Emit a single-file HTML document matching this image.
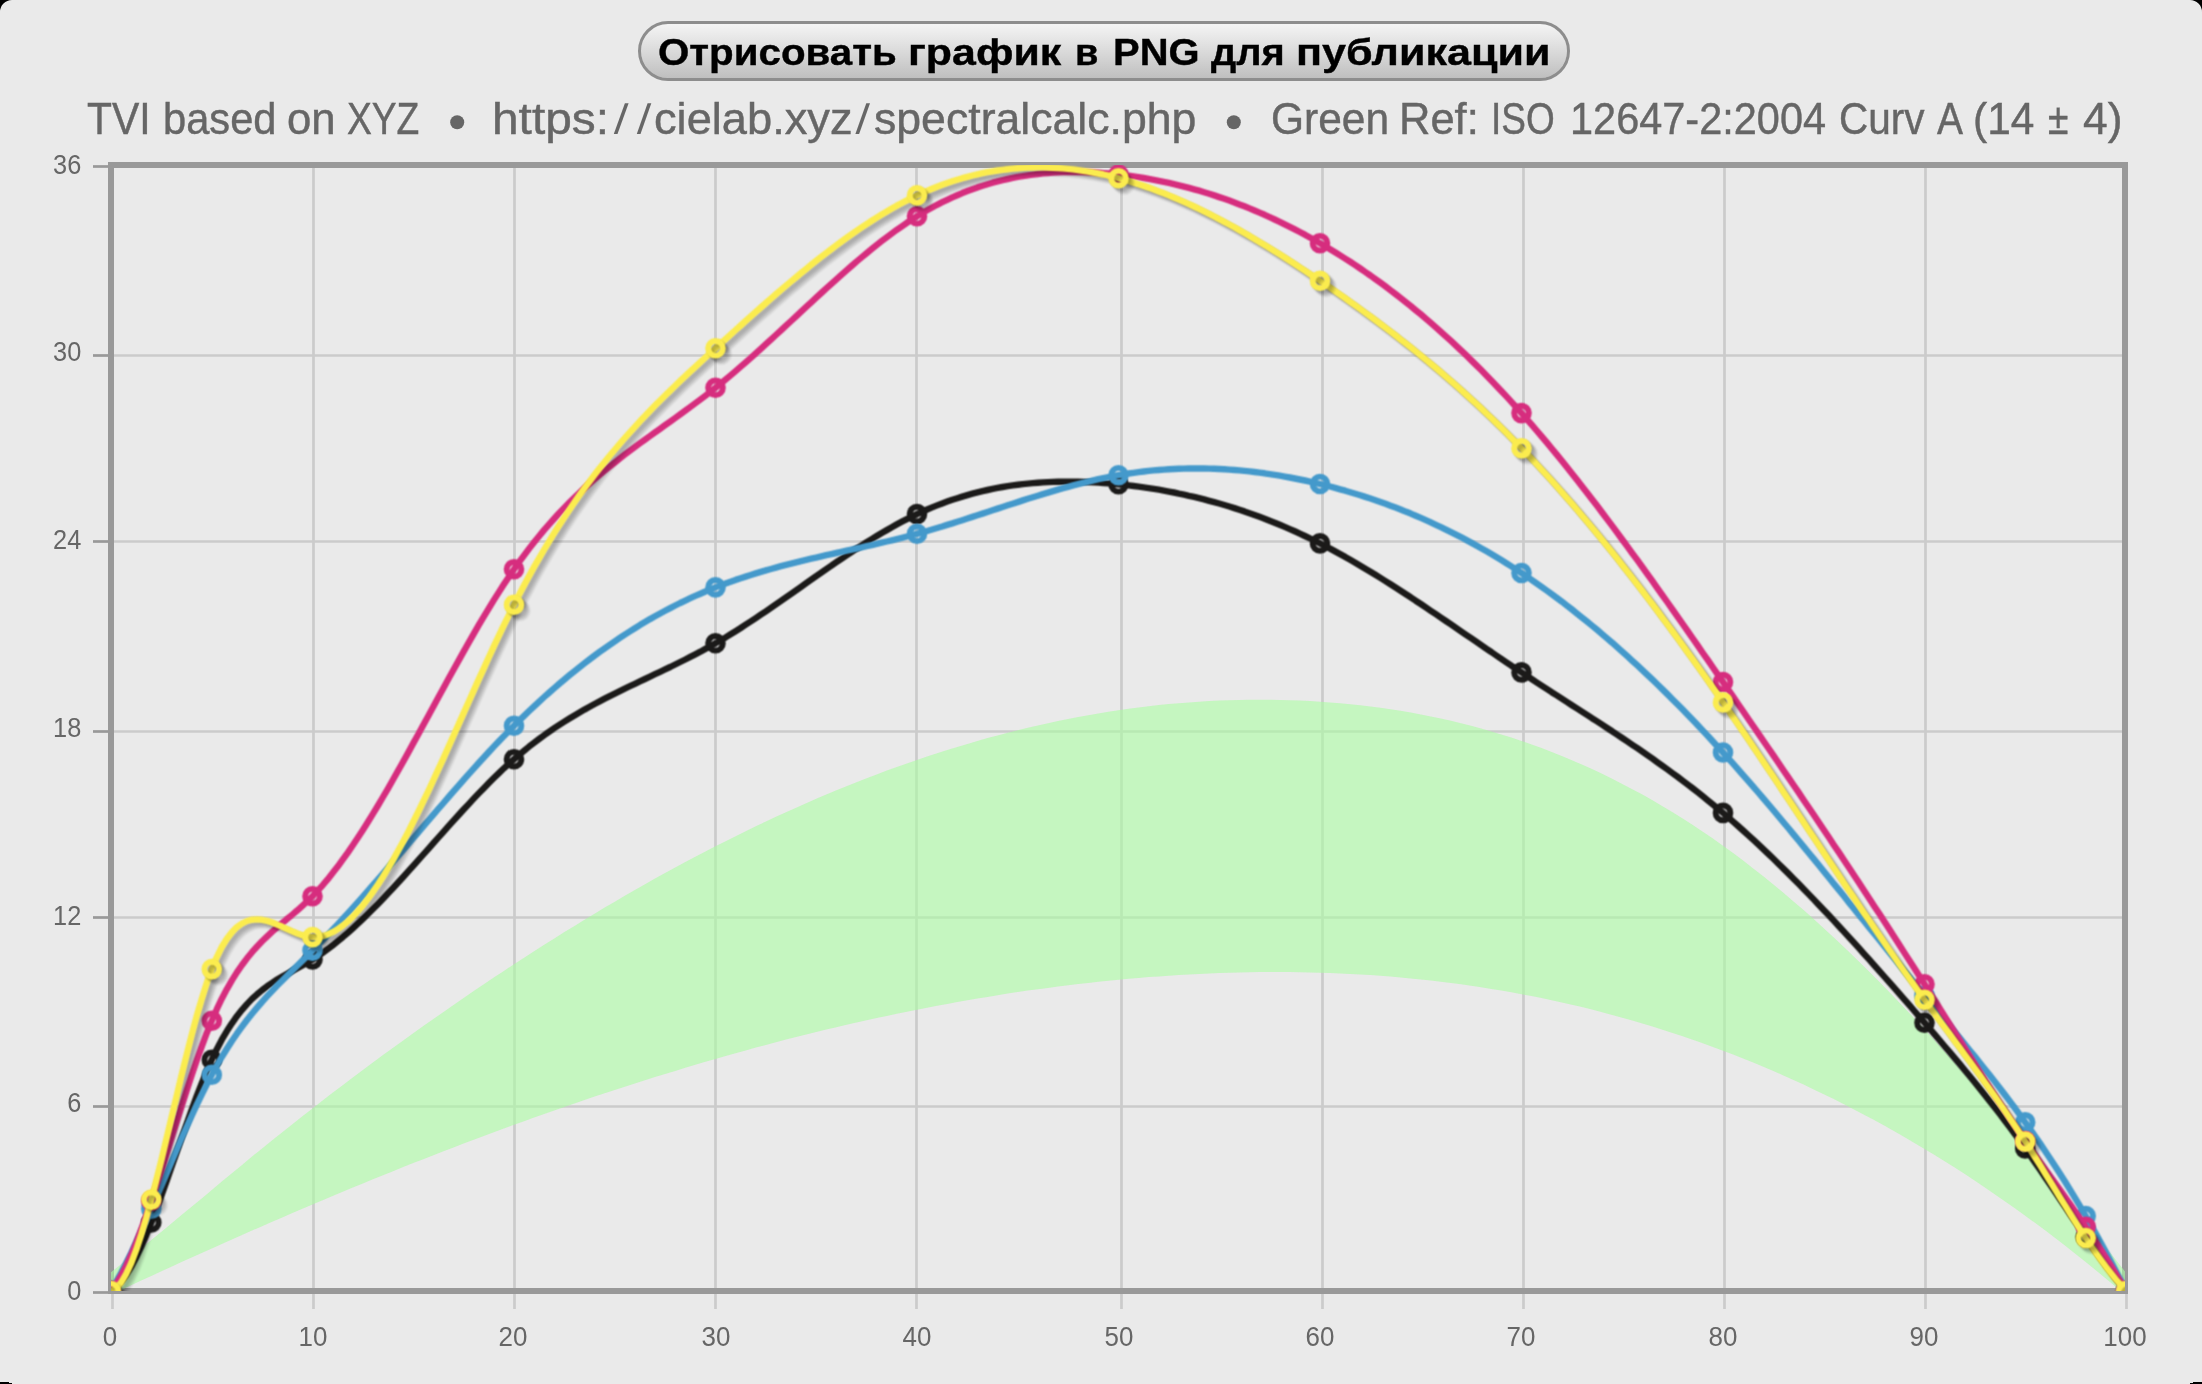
<!DOCTYPE html>
<html lang="ru"><head><meta charset="utf-8"><title>TVI based on XYZ</title>
<style>
html,body{margin:0;padding:0;}
body{width:2202px;height:1384px;background:#eaeaea;position:relative;font-family:"Liberation Sans",sans-serif;color:#666;}
.btn{position:absolute;left:638px;top:21px;width:932px;height:60px;box-sizing:border-box;border:3px solid #8d8d8d;border-radius:30px;
 background:linear-gradient(#f4f4f4 0%,#e6e6e6 28%,#d5d5d5 60%,#bfbfbf 100%) padding-box;background-origin:padding-box;}
.tw{position:absolute;top:89.00px;height:60px;line-height:60px;white-space:pre;font-size:44.5px;color:#666;transform-origin:0 0;-webkit-text-stroke:0.45px #666;}
.bw{position:absolute;top:21.70px;height:60px;line-height:60px;white-space:pre;font-size:37.5px;font-weight:bold;color:#000;transform-origin:0 0;-webkit-text-stroke:0.4px #000;}
.xl{position:absolute;top:1321.4px;width:100px;height:30px;line-height:30px;text-align:center;font-size:28.5px;color:#666;transform:scaleX(0.91);transform-origin:50% 50%;}
.yl{position:absolute;left:0;width:81.3px;height:30px;line-height:30px;text-align:right;font-size:28.5px;color:#666;transform:scaleX(0.89);transform-origin:100% 50%;}
</style></head><body>
<svg width="2202" height="1384" viewBox="0 0 2202 1384" style="position:absolute;left:0;top:0">
<defs><clipPath id="plot"><rect x="111" y="165" width="2014" height="1126"/></clipPath><filter id="soft" x="-5%" y="-5%" width="110%" height="110%" color-interpolation-filters="sRGB"><feConvolveMatrix order="3" kernelMatrix="1 2 1 2 4 2 1 2 1" divisor="16" edgeMode="none"/></filter><filter id="sh" x="-5%" y="-5%" width="110%" height="110%" color-interpolation-filters="sRGB"><feGaussianBlur stdDeviation="1.1"/></filter></defs>
<g stroke="#cbcbcb" stroke-width="2.7" fill="none"><line x1="112.5" y1="165" x2="112.5" y2="1309" /><line x1="313.5" y1="165" x2="313.5" y2="1309" /><line x1="514.5" y1="165" x2="514.5" y2="1309" /><line x1="715.5" y1="165" x2="715.5" y2="1309" /><line x1="916.5" y1="165" x2="916.5" y2="1309" /><line x1="1121.5" y1="165" x2="1121.5" y2="1309" /><line x1="1322.5" y1="165" x2="1322.5" y2="1309" /><line x1="1523.5" y1="165" x2="1523.5" y2="1309" /><line x1="1724.5" y1="165" x2="1724.5" y2="1309" /><line x1="1925.5" y1="165" x2="1925.5" y2="1309" /><line x1="2126.5" y1="165" x2="2126.5" y2="1309" /><line x1="108" y1="166.5" x2="2128" y2="166.5" /><line x1="108" y1="355.5" x2="2128" y2="355.5" /><line x1="108" y1="541.5" x2="2128" y2="541.5" /><line x1="108" y1="731.5" x2="2128" y2="731.5" /><line x1="108" y1="917.5" x2="2128" y2="917.5" /><line x1="108" y1="1106.5" x2="2128" y2="1106.5" /><line x1="108" y1="1292.5" x2="2128" y2="1292.5" /></g>
<g stroke="#999999" stroke-width="2.7" fill="none"><line x1="93" y1="166.5" x2="109" y2="166.5" /><line x1="93" y1="355.5" x2="109" y2="355.5" /><line x1="93" y1="541.5" x2="109" y2="541.5" /><line x1="93" y1="731.5" x2="109" y2="731.5" /><line x1="93" y1="917.5" x2="109" y2="917.5" /><line x1="93" y1="1106.5" x2="109" y2="1106.5" /><line x1="93" y1="1292.5" x2="109" y2="1292.5" /></g>
<rect x="111" y="165" width="2014" height="1126" fill="none" stroke="#999999" stroke-width="6"/>
<g clip-path="url(#plot)">
<path d="M111.0,1272.2 L121.1,1264.3 L131.2,1256.3 L141.2,1248.2 L151.3,1240.0 L161.4,1231.8 L171.4,1223.5 L181.5,1215.1 L191.6,1206.7 L201.7,1198.4 L211.8,1190.0 L221.8,1181.6 L231.9,1173.2 L242.0,1164.9 L252.0,1156.6 L262.1,1148.4 L272.2,1140.2 L282.3,1132.2 L292.4,1124.2 L302.4,1116.2 L312.5,1108.4 L322.6,1100.6 L332.6,1092.8 L342.7,1085.2 L352.8,1077.6 L362.9,1070.0 L372.9,1062.6 L383.0,1055.1 L393.1,1047.8 L403.2,1040.5 L413.2,1033.3 L423.3,1026.1 L433.4,1019.0 L443.5,1011.9 L453.5,1004.9 L463.6,998.0 L473.7,991.1 L483.8,984.3 L493.8,977.5 L503.9,970.9 L514.0,964.2 L524.1,957.7 L534.1,951.2 L544.2,944.8 L554.3,938.4 L564.4,932.1 L574.5,925.9 L584.5,919.7 L594.6,913.7 L604.7,907.6 L614.8,901.7 L624.8,895.8 L634.9,890.0 L645.0,884.3 L655.0,878.6 L665.1,873.1 L675.2,867.6 L685.3,862.1 L695.3,856.8 L705.4,851.5 L715.5,846.3 L725.6,841.2 L735.6,836.2 L745.7,831.2 L755.8,826.3 L765.9,821.5 L775.9,816.8 L786.0,812.2 L796.1,807.7 L806.2,803.2 L816.2,798.8 L826.3,794.5 L836.4,790.3 L846.5,786.2 L856.5,782.2 L866.6,778.2 L876.7,774.4 L886.8,770.6 L896.8,767.0 L906.9,763.4 L917.0,759.9 L927.1,756.5 L937.1,753.2 L947.2,750.0 L957.3,746.9 L967.4,743.9 L977.4,740.9 L987.5,738.1 L997.6,735.4 L1007.7,732.7 L1017.7,730.2 L1027.8,727.8 L1037.9,725.4 L1048.0,723.2 L1058.0,721.0 L1068.1,719.0 L1078.2,717.0 L1088.3,715.2 L1098.3,713.4 L1108.4,711.8 L1118.5,710.3 L1128.6,708.8 L1138.6,707.5 L1148.7,706.3 L1158.8,705.1 L1168.9,704.1 L1178.9,703.2 L1189.0,702.4 L1199.1,701.7 L1209.2,701.1 L1219.2,700.6 L1229.3,700.2 L1239.4,699.9 L1249.5,699.8 L1259.5,699.7 L1269.6,699.8 L1279.7,699.9 L1289.8,700.2 L1299.8,700.6 L1309.9,701.1 L1320.0,701.7 L1330.1,702.4 L1340.1,703.2 L1350.2,704.2 L1360.3,705.3 L1370.4,706.5 L1380.4,707.8 L1390.5,709.2 L1400.6,710.8 L1410.7,712.5 L1420.8,714.4 L1430.8,716.4 L1440.9,718.5 L1451.0,720.8 L1461.0,723.2 L1471.1,725.8 L1481.2,728.5 L1491.3,731.4 L1501.3,734.4 L1511.4,737.6 L1521.5,740.9 L1531.6,744.4 L1541.6,748.1 L1551.7,752.0 L1561.8,756.0 L1571.9,760.2 L1581.9,764.6 L1592.0,769.1 L1602.1,773.8 L1612.2,778.8 L1622.2,783.9 L1632.3,789.2 L1642.4,794.6 L1652.5,800.3 L1662.5,806.2 L1672.6,812.3 L1682.7,818.6 L1692.8,825.0 L1702.8,831.7 L1712.9,838.6 L1723.0,845.7 L1733.1,853.1 L1743.1,860.6 L1753.2,868.4 L1763.3,876.3 L1773.4,884.5 L1783.4,892.8 L1793.5,901.4 L1803.6,910.1 L1813.7,919.1 L1823.7,928.2 L1833.8,937.5 L1843.9,947.0 L1854.0,956.7 L1864.0,966.6 L1874.1,976.6 L1884.2,986.8 L1894.3,997.2 L1904.3,1007.7 L1914.4,1018.4 L1924.5,1029.2 L1934.6,1040.2 L1944.6,1051.4 L1954.7,1062.7 L1964.8,1074.2 L1974.9,1085.7 L1984.9,1097.5 L1995.0,1109.4 L2005.1,1121.4 L2015.2,1133.5 L2025.2,1145.8 L2035.3,1158.2 L2045.4,1170.7 L2055.5,1183.3 L2065.6,1196.0 L2075.6,1208.7 L2085.7,1221.5 L2095.8,1234.3 L2105.8,1247.1 L2115.9,1259.9 L2126.0,1272.7 L2126.0,1295.5 L2115.9,1286.9 L2105.8,1278.5 L2095.8,1270.2 L2085.7,1262.0 L2075.6,1253.9 L2065.6,1246.0 L2055.5,1238.3 L2045.4,1230.6 L2035.3,1223.1 L2025.2,1215.7 L2015.2,1208.5 L2005.1,1201.4 L1995.0,1194.4 L1984.9,1187.5 L1974.9,1180.7 L1964.8,1174.1 L1954.7,1167.6 L1944.6,1161.3 L1934.6,1155.0 L1924.5,1148.9 L1914.4,1142.9 L1904.3,1137.0 L1894.3,1131.3 L1884.2,1125.6 L1874.1,1120.1 L1864.0,1114.7 L1854.0,1109.4 L1843.9,1104.2 L1833.8,1099.1 L1823.7,1094.2 L1813.7,1089.4 L1803.6,1084.6 L1793.5,1080.0 L1783.4,1075.5 L1773.4,1071.1 L1763.3,1066.8 L1753.2,1062.6 L1743.1,1058.6 L1733.1,1054.6 L1723.0,1050.7 L1712.9,1047.0 L1702.8,1043.3 L1692.8,1039.7 L1682.7,1036.3 L1672.6,1032.9 L1662.5,1029.7 L1652.5,1026.5 L1642.4,1023.5 L1632.3,1020.5 L1622.2,1017.7 L1612.2,1014.9 L1602.1,1012.2 L1592.0,1009.6 L1581.9,1007.1 L1571.9,1004.8 L1561.8,1002.5 L1551.7,1000.2 L1541.6,998.1 L1531.6,996.1 L1521.5,994.2 L1511.4,992.3 L1501.3,990.5 L1491.3,988.9 L1481.2,987.3 L1471.1,985.7 L1461.0,984.3 L1451.0,983.0 L1440.9,981.7 L1430.8,980.5 L1420.8,979.4 L1410.7,978.4 L1400.6,977.5 L1390.5,976.6 L1380.4,975.8 L1370.4,975.1 L1360.3,974.5 L1350.2,973.9 L1340.1,973.4 L1330.1,973.0 L1320.0,972.7 L1309.9,972.4 L1299.8,972.2 L1289.8,972.1 L1279.7,972.0 L1269.6,972.0 L1259.5,972.1 L1249.5,972.2 L1239.4,972.4 L1229.3,972.7 L1219.2,973.0 L1209.2,973.4 L1199.1,973.9 L1189.0,974.4 L1178.9,975.0 L1168.9,975.7 L1158.8,976.4 L1148.7,977.1 L1138.6,978.0 L1128.6,978.8 L1118.5,979.8 L1108.4,980.8 L1098.3,981.8 L1088.3,982.9 L1078.2,984.1 L1068.1,985.3 L1058.0,986.5 L1048.0,987.9 L1037.9,989.2 L1027.8,990.6 L1017.7,992.1 L1007.7,993.6 L997.6,995.2 L987.5,996.9 L977.4,998.5 L967.4,1000.3 L957.3,1002.0 L947.2,1003.9 L937.1,1005.7 L927.1,1007.7 L917.0,1009.7 L906.9,1011.7 L896.8,1013.8 L886.8,1015.9 L876.7,1018.0 L866.6,1020.3 L856.5,1022.5 L846.5,1024.8 L836.4,1027.2 L826.3,1029.6 L816.2,1032.0 L806.2,1034.5 L796.1,1037.1 L786.0,1039.6 L775.9,1042.3 L765.9,1044.9 L755.8,1047.6 L745.7,1050.4 L735.6,1053.2 L725.6,1056.0 L715.5,1058.9 L705.4,1061.8 L695.3,1064.8 L685.3,1067.8 L675.2,1070.9 L665.1,1073.9 L655.0,1077.1 L645.0,1080.2 L634.9,1083.4 L624.8,1086.7 L614.8,1090.0 L604.7,1093.3 L594.6,1096.6 L584.5,1100.0 L574.5,1103.5 L564.4,1106.9 L554.3,1110.4 L544.2,1114.0 L534.1,1117.6 L524.1,1121.2 L514.0,1124.8 L503.9,1128.5 L493.8,1132.2 L483.8,1136.0 L473.7,1139.8 L463.6,1143.6 L453.5,1147.4 L443.5,1151.3 L433.4,1155.2 L423.3,1159.2 L413.2,1163.1 L403.2,1167.1 L393.1,1171.2 L383.0,1175.2 L372.9,1179.3 L362.9,1183.5 L352.8,1187.6 L342.7,1191.8 L332.6,1196.0 L322.6,1200.2 L312.5,1204.5 L302.4,1208.8 L292.4,1213.1 L282.3,1217.4 L272.2,1221.8 L262.1,1226.2 L252.0,1230.6 L242.0,1235.0 L231.9,1239.5 L221.8,1244.0 L211.8,1248.5 L201.7,1253.0 L191.6,1257.6 L181.5,1262.1 L171.4,1266.7 L161.4,1271.3 L151.3,1275.9 L141.2,1280.6 L131.2,1285.3 L121.1,1290.0 L111.0,1294.7 Z" fill="#abfea4" fill-opacity="0.6" stroke="none"/>
<g filter="url(#soft)"><path d="M111.0,1291.0 L116.0,1287.3 L121.1,1281.9 L126.1,1275.0 L131.2,1266.8 L136.2,1257.2 L141.2,1246.6 L146.3,1234.9 L151.3,1222.5 L156.3,1209.4 L161.4,1195.7 L166.4,1181.6 L171.4,1167.2 L176.5,1152.8 L181.5,1138.3 L186.6,1124.0 L191.6,1110.0 L196.6,1096.4 L201.7,1083.4 L206.7,1071.1 L211.8,1059.7 L216.8,1049.2 L221.8,1039.7 L226.9,1031.1 L231.9,1023.3 L236.9,1016.2 L242.0,1009.8 L247.0,1004.1 L252.0,998.9 L257.1,994.3 L262.1,990.1 L267.2,986.2 L272.2,982.8 L277.2,979.5 L282.3,976.5 L287.3,973.7 L292.4,970.9 L297.4,968.2 L302.4,965.4 L307.5,962.5 L312.5,959.5 L317.5,956.3 L322.6,952.8 L327.6,949.2 L332.6,945.4 L337.7,941.3 L342.7,937.2 L347.8,932.8 L352.8,928.3 L357.8,923.7 L362.9,918.9 L367.9,914.0 L372.9,909.0 L378.0,903.9 L383.0,898.7 L388.1,893.3 L393.1,888.0 L398.1,882.5 L403.2,877.0 L408.2,871.4 L413.2,865.8 L418.3,860.2 L423.3,854.5 L428.4,848.9 L433.4,843.2 L438.4,837.5 L443.5,831.8 L448.5,826.2 L453.5,820.6 L458.6,815.0 L463.6,809.5 L468.7,804.1 L473.7,798.7 L478.7,793.4 L483.8,788.2 L488.8,783.0 L493.8,778.0 L498.9,773.1 L503.9,768.3 L509.0,763.7 L514.0,759.2 L519.0,754.9 L524.1,750.7 L529.1,746.6 L534.1,742.7 L539.2,738.9 L544.2,735.2 L549.3,731.6 L554.3,728.2 L559.3,724.9 L564.4,721.6 L569.4,718.5 L574.5,715.4 L579.5,712.5 L584.5,709.6 L589.6,706.8 L594.6,704.0 L599.6,701.4 L604.7,698.7 L609.7,696.1 L614.8,693.6 L619.8,691.1 L624.8,688.6 L629.9,686.2 L634.9,683.8 L639.9,681.4 L645.0,679.0 L650.0,676.6 L655.0,674.2 L660.1,671.8 L665.1,669.4 L670.2,667.0 L675.2,664.5 L680.2,662.0 L685.3,659.5 L690.3,656.9 L695.3,654.3 L700.4,651.7 L705.4,648.9 L710.5,646.2 L715.5,643.3 L720.5,640.4 L725.6,637.4 L730.6,634.3 L735.6,631.2 L740.7,628.0 L745.7,624.7 L750.8,621.4 L755.8,618.1 L760.8,614.7 L765.9,611.3 L770.9,607.9 L775.9,604.4 L781.0,600.9 L786.0,597.4 L791.1,593.8 L796.1,590.3 L801.1,586.8 L806.2,583.2 L811.2,579.7 L816.2,576.1 L821.3,572.6 L826.3,569.1 L831.4,565.7 L836.4,562.2 L841.4,558.8 L846.5,555.4 L851.5,552.0 L856.5,548.7 L861.6,545.5 L866.6,542.3 L871.7,539.1 L876.7,536.0 L881.7,533.0 L886.8,530.1 L891.8,527.2 L896.8,524.4 L901.9,521.7 L906.9,519.1 L912.0,516.5 L917.0,514.1 L922.0,511.8 L927.1,509.5 L932.1,507.4 L937.1,505.4 L942.2,503.4 L947.2,501.6 L952.3,499.8 L957.3,498.2 L962.3,496.6 L967.4,495.1 L972.4,493.7 L977.4,492.4 L982.5,491.1 L987.5,490.0 L992.6,488.9 L997.6,487.9 L1002.6,487.0 L1007.7,486.2 L1012.7,485.4 L1017.7,484.8 L1022.8,484.1 L1027.8,483.6 L1032.9,483.1 L1037.9,482.7 L1042.9,482.4 L1048.0,482.1 L1053.0,481.9 L1058.0,481.8 L1063.1,481.7 L1068.1,481.7 L1073.2,481.7 L1078.2,481.8 L1083.2,481.9 L1088.3,482.1 L1093.3,482.3 L1098.3,482.6 L1103.4,483.0 L1108.4,483.4 L1113.5,483.8 L1118.5,484.3 L1123.5,484.8 L1128.6,485.4 L1133.6,486.0 L1138.6,486.7 L1143.7,487.4 L1148.7,488.1 L1153.8,488.9 L1158.8,489.7 L1163.8,490.6 L1168.9,491.6 L1173.9,492.5 L1178.9,493.6 L1184.0,494.6 L1189.0,495.8 L1194.1,496.9 L1199.1,498.2 L1204.1,499.4 L1209.2,500.8 L1214.2,502.1 L1219.2,503.5 L1224.3,505.0 L1229.3,506.5 L1234.4,508.1 L1239.4,509.8 L1244.4,511.4 L1249.5,513.2 L1254.5,515.0 L1259.5,516.8 L1264.6,518.7 L1269.6,520.7 L1274.7,522.7 L1279.7,524.8 L1284.7,526.9 L1289.8,529.1 L1294.8,531.3 L1299.8,533.6 L1304.9,536.0 L1309.9,538.4 L1315.0,540.9 L1320.0,543.4 L1325.0,546.0 L1330.1,548.6 L1335.1,551.4 L1340.1,554.1 L1345.2,556.9 L1350.2,559.8 L1355.3,562.7 L1360.3,565.7 L1365.3,568.7 L1370.4,571.7 L1375.4,574.8 L1380.4,577.9 L1385.5,581.1 L1390.5,584.3 L1395.6,587.5 L1400.6,590.7 L1405.6,594.0 L1410.7,597.3 L1415.7,600.7 L1420.8,604.0 L1425.8,607.4 L1430.8,610.8 L1435.9,614.2 L1440.9,617.6 L1445.9,621.0 L1451.0,624.4 L1456.0,627.9 L1461.0,631.3 L1466.1,634.8 L1471.1,638.2 L1476.2,641.7 L1481.2,645.1 L1486.2,648.6 L1491.3,652.0 L1496.3,655.5 L1501.3,658.9 L1506.4,662.3 L1511.4,665.7 L1516.5,669.0 L1521.5,672.4 L1526.5,675.7 L1531.6,679.0 L1536.6,682.3 L1541.6,685.6 L1546.7,688.9 L1551.7,692.2 L1556.8,695.4 L1561.8,698.7 L1566.8,701.9 L1571.9,705.2 L1576.9,708.4 L1581.9,711.6 L1587.0,714.9 L1592.0,718.2 L1597.1,721.4 L1602.1,724.7 L1607.1,728.0 L1612.2,731.3 L1617.2,734.7 L1622.2,738.0 L1627.3,741.4 L1632.3,744.8 L1637.4,748.2 L1642.4,751.7 L1647.4,755.2 L1652.5,758.7 L1657.5,762.3 L1662.5,765.9 L1667.6,769.5 L1672.6,773.2 L1677.7,776.9 L1682.7,780.7 L1687.7,784.5 L1692.8,788.4 L1697.8,792.3 L1702.8,796.3 L1707.9,800.4 L1712.9,804.5 L1718.0,808.7 L1723.0,812.9 L1728.0,817.2 L1733.1,821.6 L1738.1,826.0 L1743.1,830.5 L1748.2,835.1 L1753.2,839.7 L1758.3,844.4 L1763.3,849.1 L1768.3,853.9 L1773.4,858.8 L1778.4,863.7 L1783.4,868.6 L1788.5,873.6 L1793.5,878.7 L1798.6,883.8 L1803.6,888.9 L1808.6,894.1 L1813.7,899.4 L1818.7,904.7 L1823.7,910.0 L1828.8,915.3 L1833.8,920.7 L1838.9,926.2 L1843.9,931.6 L1848.9,937.1 L1854.0,942.7 L1859.0,948.2 L1864.0,953.8 L1869.1,959.4 L1874.1,965.1 L1879.2,970.8 L1884.2,976.5 L1889.2,982.2 L1894.3,987.9 L1899.3,993.7 L1904.3,999.4 L1909.4,1005.2 L1914.4,1011.0 L1919.5,1016.9 L1924.5,1022.7 L1929.5,1028.5 L1934.6,1034.4 L1939.6,1040.3 L1944.6,1046.2 L1949.7,1052.1 L1954.7,1058.1 L1959.8,1064.1 L1964.8,1070.2 L1969.8,1076.3 L1974.9,1082.5 L1979.9,1088.7 L1984.9,1095.0 L1990.0,1101.4 L1995.0,1107.8 L2000.1,1114.4 L2005.1,1121.0 L2010.1,1127.7 L2015.2,1134.5 L2020.2,1141.5 L2025.2,1148.5 L2030.3,1155.6 L2035.3,1162.9 L2040.4,1170.2 L2045.4,1177.6 L2050.4,1185.0 L2055.5,1192.5 L2060.5,1200.0 L2065.6,1207.4 L2070.6,1214.9 L2075.6,1222.3 L2080.7,1229.7 L2085.7,1237.0 L2090.7,1244.2 L2095.8,1251.3 L2100.8,1258.3 L2105.8,1265.2 L2110.9,1271.9 L2115.9,1278.5 L2121.0,1284.8 L2126.0,1291.0" stroke="#1b1a19" stroke-width="6.4" fill="none" stroke-linejoin="round" stroke-linecap="round"/><circle cx="111.0" cy="1291.0" r="7.35" stroke="#1b1a19" stroke-width="5.9" fill="none"/><circle cx="151.3" cy="1222.5" r="7.35" stroke="#1b1a19" stroke-width="5.9" fill="none"/><circle cx="211.8" cy="1059.7" r="7.35" stroke="#1b1a19" stroke-width="5.9" fill="none"/><circle cx="312.5" cy="959.5" r="7.35" stroke="#1b1a19" stroke-width="5.9" fill="none"/><circle cx="514.0" cy="759.2" r="7.35" stroke="#1b1a19" stroke-width="5.9" fill="none"/><circle cx="715.5" cy="643.3" r="7.35" stroke="#1b1a19" stroke-width="5.9" fill="none"/><circle cx="917.0" cy="514.1" r="7.35" stroke="#1b1a19" stroke-width="5.9" fill="none"/><circle cx="1118.5" cy="484.3" r="7.35" stroke="#1b1a19" stroke-width="5.9" fill="none"/><circle cx="1320.0" cy="543.4" r="7.35" stroke="#1b1a19" stroke-width="5.9" fill="none"/><circle cx="1521.5" cy="672.4" r="7.35" stroke="#1b1a19" stroke-width="5.9" fill="none"/><circle cx="1723.0" cy="812.9" r="7.35" stroke="#1b1a19" stroke-width="5.9" fill="none"/><circle cx="1924.5" cy="1022.7" r="7.35" stroke="#1b1a19" stroke-width="5.9" fill="none"/><circle cx="2025.2" cy="1148.5" r="7.35" stroke="#1b1a19" stroke-width="5.9" fill="none"/><circle cx="2085.7" cy="1237.0" r="7.35" stroke="#1b1a19" stroke-width="5.9" fill="none"/><circle cx="2126.0" cy="1291.0" r="7.35" stroke="#1b1a19" stroke-width="5.9" fill="none"/></g>
<g filter="url(#soft)"><path d="M111.0,1291.0 L116.0,1282.3 L121.1,1273.0 L126.1,1263.3 L131.2,1253.1 L136.2,1242.4 L141.2,1231.5 L146.3,1220.3 L151.3,1208.8 L156.3,1197.2 L161.4,1185.4 L166.4,1173.7 L171.4,1161.9 L176.5,1150.2 L181.5,1138.6 L186.6,1127.2 L191.6,1116.0 L196.6,1105.1 L201.7,1094.6 L206.7,1084.5 L211.8,1074.8 L216.8,1065.6 L221.8,1057.0 L226.9,1048.8 L231.9,1041.0 L236.9,1033.7 L242.0,1026.7 L247.0,1020.0 L252.0,1013.7 L257.1,1007.6 L262.1,1001.8 L267.2,996.2 L272.2,990.8 L277.2,985.5 L282.3,980.4 L287.3,975.4 L292.4,970.4 L297.4,965.5 L302.4,960.6 L307.5,955.6 L312.5,950.6 L317.5,945.5 L322.6,940.3 L327.6,935.1 L332.6,929.8 L337.7,924.4 L342.7,918.9 L347.8,913.4 L352.8,907.9 L357.8,902.3 L362.9,896.6 L367.9,890.9 L372.9,885.1 L378.0,879.3 L383.0,873.5 L388.1,867.7 L393.1,861.8 L398.1,855.9 L403.2,850.1 L408.2,844.2 L413.2,838.2 L418.3,832.3 L423.3,826.4 L428.4,820.5 L433.4,814.7 L438.4,808.8 L443.5,803.0 L448.5,797.1 L453.5,791.4 L458.6,785.6 L463.6,779.9 L468.7,774.2 L473.7,768.6 L478.7,763.0 L483.8,757.5 L488.8,752.0 L493.8,746.6 L498.9,741.3 L503.9,736.1 L509.0,730.9 L514.0,725.8 L519.0,720.8 L524.1,715.9 L529.1,711.0 L534.1,706.3 L539.2,701.6 L544.2,697.0 L549.3,692.5 L554.3,688.1 L559.3,683.8 L564.4,679.5 L569.4,675.3 L574.5,671.2 L579.5,667.2 L584.5,663.3 L589.6,659.4 L594.6,655.6 L599.6,651.9 L604.7,648.3 L609.7,644.8 L614.8,641.3 L619.8,637.9 L624.8,634.6 L629.9,631.4 L634.9,628.2 L639.9,625.1 L645.0,622.1 L650.0,619.1 L655.0,616.3 L660.1,613.5 L665.1,610.8 L670.2,608.1 L675.2,605.5 L680.2,603.0 L685.3,600.6 L690.3,598.2 L695.3,595.9 L700.4,593.7 L705.4,591.5 L710.5,589.4 L715.5,587.4 L720.5,585.4 L725.6,583.5 L730.6,581.7 L735.6,579.9 L740.7,578.2 L745.7,576.6 L750.8,575.0 L755.8,573.4 L760.8,571.9 L765.9,570.4 L770.9,569.0 L775.9,567.6 L781.0,566.2 L786.0,564.9 L791.1,563.6 L796.1,562.4 L801.1,561.1 L806.2,559.9 L811.2,558.7 L816.2,557.6 L821.3,556.4 L826.3,555.2 L831.4,554.1 L836.4,553.0 L841.4,551.9 L846.5,550.7 L851.5,549.6 L856.5,548.5 L861.6,547.4 L866.6,546.2 L871.7,545.1 L876.7,543.9 L881.7,542.7 L886.8,541.5 L891.8,540.3 L896.8,539.1 L901.9,537.8 L906.9,536.5 L912.0,535.2 L917.0,533.8 L922.0,532.4 L927.1,531.0 L932.1,529.5 L937.1,528.0 L942.2,526.5 L947.2,524.9 L952.3,523.4 L957.3,521.8 L962.3,520.2 L967.4,518.5 L972.4,516.9 L977.4,515.3 L982.5,513.6 L987.5,512.0 L992.6,510.3 L997.6,508.6 L1002.6,507.0 L1007.7,505.3 L1012.7,503.7 L1017.7,502.1 L1022.8,500.4 L1027.8,498.8 L1032.9,497.2 L1037.9,495.7 L1042.9,494.1 L1048.0,492.6 L1053.0,491.1 L1058.0,489.6 L1063.1,488.2 L1068.1,486.8 L1073.2,485.4 L1078.2,484.1 L1083.2,482.8 L1088.3,481.6 L1093.3,480.4 L1098.3,479.2 L1103.4,478.1 L1108.4,477.1 L1113.5,476.1 L1118.5,475.2 L1123.5,474.3 L1128.6,473.5 L1133.6,472.8 L1138.6,472.1 L1143.7,471.5 L1148.7,470.9 L1153.8,470.4 L1158.8,470.0 L1163.8,469.6 L1168.9,469.3 L1173.9,469.0 L1178.9,468.8 L1184.0,468.6 L1189.0,468.5 L1194.1,468.4 L1199.1,468.5 L1204.1,468.5 L1209.2,468.6 L1214.2,468.8 L1219.2,469.0 L1224.3,469.3 L1229.3,469.6 L1234.4,470.0 L1239.4,470.4 L1244.4,470.9 L1249.5,471.4 L1254.5,472.0 L1259.5,472.7 L1264.6,473.3 L1269.6,474.1 L1274.7,474.9 L1279.7,475.7 L1284.7,476.6 L1289.8,477.5 L1294.8,478.5 L1299.8,479.5 L1304.9,480.5 L1309.9,481.6 L1315.0,482.8 L1320.0,484.0 L1325.0,485.2 L1330.1,486.5 L1335.1,487.9 L1340.1,489.3 L1345.2,490.7 L1350.2,492.2 L1355.3,493.7 L1360.3,495.2 L1365.3,496.9 L1370.4,498.5 L1375.4,500.2 L1380.4,502.0 L1385.5,503.8 L1390.5,505.7 L1395.6,507.6 L1400.6,509.5 L1405.6,511.6 L1410.7,513.6 L1415.7,515.7 L1420.8,517.9 L1425.8,520.1 L1430.8,522.4 L1435.9,524.8 L1440.9,527.1 L1445.9,529.6 L1451.0,532.1 L1456.0,534.6 L1461.0,537.2 L1466.1,539.9 L1471.1,542.6 L1476.2,545.4 L1481.2,548.2 L1486.2,551.1 L1491.3,554.1 L1496.3,557.1 L1501.3,560.1 L1506.4,563.3 L1511.4,566.4 L1516.5,569.7 L1521.5,573.0 L1526.5,576.4 L1531.6,579.8 L1536.6,583.3 L1541.6,586.8 L1546.7,590.5 L1551.7,594.1 L1556.8,597.9 L1561.8,601.6 L1566.8,605.5 L1571.9,609.4 L1576.9,613.4 L1581.9,617.4 L1587.0,621.5 L1592.0,625.6 L1597.1,629.8 L1602.1,634.1 L1607.1,638.4 L1612.2,642.7 L1617.2,647.2 L1622.2,651.6 L1627.3,656.2 L1632.3,660.8 L1637.4,665.4 L1642.4,670.1 L1647.4,674.9 L1652.5,679.7 L1657.5,684.5 L1662.5,689.4 L1667.6,694.4 L1672.6,699.4 L1677.7,704.5 L1682.7,709.6 L1687.7,714.8 L1692.8,720.0 L1697.8,725.3 L1702.8,730.7 L1707.9,736.0 L1712.9,741.5 L1718.0,747.0 L1723.0,752.5 L1728.0,758.1 L1733.1,763.7 L1738.1,769.4 L1743.1,775.1 L1748.2,780.9 L1753.2,786.7 L1758.3,792.5 L1763.3,798.4 L1768.3,804.3 L1773.4,810.3 L1778.4,816.3 L1783.4,822.3 L1788.5,828.3 L1793.5,834.4 L1798.6,840.5 L1803.6,846.6 L1808.6,852.7 L1813.7,858.9 L1818.7,865.1 L1823.7,871.3 L1828.8,877.5 L1833.8,883.7 L1838.9,889.9 L1843.9,896.1 L1848.9,902.4 L1854.0,908.6 L1859.0,914.9 L1864.0,921.1 L1869.1,927.4 L1874.1,933.6 L1879.2,939.8 L1884.2,946.1 L1889.2,952.3 L1894.3,958.5 L1899.3,964.7 L1904.3,970.9 L1909.4,977.1 L1914.4,983.2 L1919.5,989.4 L1924.5,995.5 L1929.5,1001.6 L1934.6,1007.7 L1939.6,1013.8 L1944.6,1019.8 L1949.7,1025.9 L1954.7,1032.0 L1959.8,1038.1 L1964.8,1044.2 L1969.8,1050.4 L1974.9,1056.6 L1979.9,1062.9 L1984.9,1069.2 L1990.0,1075.5 L1995.0,1081.9 L2000.1,1088.4 L2005.1,1095.0 L2010.1,1101.7 L2015.2,1108.5 L2020.2,1115.3 L2025.2,1122.3 L2030.3,1129.4 L2035.3,1136.6 L2040.4,1143.9 L2045.4,1151.4 L2050.4,1158.9 L2055.5,1166.7 L2060.5,1174.5 L2065.6,1182.5 L2070.6,1190.7 L2075.6,1198.9 L2080.7,1207.4 L2085.7,1216.0 L2090.7,1224.8 L2095.8,1233.7 L2100.8,1242.8 L2105.8,1252.1 L2110.9,1261.5 L2115.9,1271.2 L2121.0,1281.0 L2126.0,1291.0" stroke="#4499cb" stroke-width="6.4" fill="none" stroke-linejoin="round" stroke-linecap="round"/><circle cx="111.0" cy="1291.0" r="7.35" stroke="#4499cb" stroke-width="5.9" fill="none"/><circle cx="151.3" cy="1208.8" r="7.35" stroke="#4499cb" stroke-width="5.9" fill="none"/><circle cx="211.8" cy="1074.8" r="7.35" stroke="#4499cb" stroke-width="5.9" fill="none"/><circle cx="312.5" cy="950.6" r="7.35" stroke="#4499cb" stroke-width="5.9" fill="none"/><circle cx="514.0" cy="725.8" r="7.35" stroke="#4499cb" stroke-width="5.9" fill="none"/><circle cx="715.5" cy="587.4" r="7.35" stroke="#4499cb" stroke-width="5.9" fill="none"/><circle cx="917.0" cy="533.8" r="7.35" stroke="#4499cb" stroke-width="5.9" fill="none"/><circle cx="1118.5" cy="475.2" r="7.35" stroke="#4499cb" stroke-width="5.9" fill="none"/><circle cx="1320.0" cy="484.0" r="7.35" stroke="#4499cb" stroke-width="5.9" fill="none"/><circle cx="1521.5" cy="573.0" r="7.35" stroke="#4499cb" stroke-width="5.9" fill="none"/><circle cx="1723.0" cy="752.5" r="7.35" stroke="#4499cb" stroke-width="5.9" fill="none"/><circle cx="1924.5" cy="995.5" r="7.35" stroke="#4499cb" stroke-width="5.9" fill="none"/><circle cx="2025.2" cy="1122.3" r="7.35" stroke="#4499cb" stroke-width="5.9" fill="none"/><circle cx="2085.7" cy="1216.0" r="7.35" stroke="#4499cb" stroke-width="5.9" fill="none"/><circle cx="2126.0" cy="1291.0" r="7.35" stroke="#4499cb" stroke-width="5.9" fill="none"/></g>
<g filter="url(#soft)"><path d="M111.0,1291.0 L116.0,1284.0 L121.1,1275.5 L126.1,1265.7 L131.2,1254.7 L136.2,1242.6 L141.2,1229.5 L146.3,1215.6 L151.3,1201.0 L156.3,1185.9 L161.4,1170.3 L166.4,1154.4 L171.4,1138.4 L176.5,1122.4 L181.5,1106.5 L186.6,1090.8 L191.6,1075.5 L196.6,1060.7 L201.7,1046.6 L206.7,1033.2 L211.8,1020.7 L216.8,1009.2 L221.8,998.7 L226.9,989.1 L231.9,980.4 L236.9,972.4 L242.0,965.0 L247.0,958.3 L252.0,952.2 L257.1,946.5 L262.1,941.3 L267.2,936.4 L272.2,931.7 L277.2,927.3 L282.3,923.0 L287.3,918.8 L292.4,914.6 L297.4,910.3 L302.4,905.8 L307.5,901.1 L312.5,896.2 L317.5,890.9 L322.6,885.3 L327.6,879.4 L332.6,873.1 L337.7,866.6 L342.7,859.7 L347.8,852.6 L352.8,845.3 L357.8,837.8 L362.9,830.0 L367.9,822.0 L372.9,813.8 L378.0,805.5 L383.0,797.0 L388.1,788.3 L393.1,779.5 L398.1,770.6 L403.2,761.7 L408.2,752.6 L413.2,743.4 L418.3,734.2 L423.3,725.0 L428.4,715.8 L433.4,706.5 L438.4,697.2 L443.5,688.0 L448.5,678.8 L453.5,669.7 L458.6,660.6 L463.6,651.6 L468.7,642.7 L473.7,633.9 L478.7,625.2 L483.8,616.7 L488.8,608.3 L493.8,600.1 L498.9,592.1 L503.9,584.3 L509.0,576.7 L514.0,569.3 L519.0,562.2 L524.1,555.3 L529.1,548.6 L534.1,542.2 L539.2,536.0 L544.2,529.9 L549.3,524.1 L554.3,518.5 L559.3,513.0 L564.4,507.7 L569.4,502.6 L574.5,497.6 L579.5,492.8 L584.5,488.1 L589.6,483.5 L594.6,479.1 L599.6,474.8 L604.7,470.6 L609.7,466.5 L614.8,462.4 L619.8,458.5 L624.8,454.6 L629.9,450.8 L634.9,447.0 L639.9,443.3 L645.0,439.6 L650.0,436.0 L655.0,432.4 L660.1,428.8 L665.1,425.2 L670.2,421.6 L675.2,418.0 L680.2,414.4 L685.3,410.7 L690.3,407.0 L695.3,403.3 L700.4,399.5 L705.4,395.7 L710.5,391.8 L715.5,387.8 L720.5,383.7 L725.6,379.6 L730.6,375.4 L735.6,371.1 L740.7,366.7 L745.7,362.3 L750.8,357.9 L755.8,353.4 L760.8,348.8 L765.9,344.2 L770.9,339.6 L775.9,335.0 L781.0,330.3 L786.0,325.7 L791.1,321.0 L796.1,316.3 L801.1,311.6 L806.2,306.9 L811.2,302.3 L816.2,297.6 L821.3,293.0 L826.3,288.4 L831.4,283.8 L836.4,279.3 L841.4,274.8 L846.5,270.3 L851.5,266.0 L856.5,261.6 L861.6,257.4 L866.6,253.2 L871.7,249.1 L876.7,245.0 L881.7,241.1 L886.8,237.2 L891.8,233.5 L896.8,229.8 L901.9,226.3 L906.9,222.8 L912.0,219.5 L917.0,216.3 L922.0,213.2 L927.1,210.3 L932.1,207.5 L937.1,204.8 L942.2,202.2 L947.2,199.8 L952.3,197.4 L957.3,195.2 L962.3,193.1 L967.4,191.1 L972.4,189.2 L977.4,187.4 L982.5,185.8 L987.5,184.2 L992.6,182.7 L997.6,181.4 L1002.6,180.1 L1007.7,179.0 L1012.7,177.9 L1017.7,176.9 L1022.8,176.1 L1027.8,175.3 L1032.9,174.6 L1037.9,174.0 L1042.9,173.4 L1048.0,173.0 L1053.0,172.6 L1058.0,172.3 L1063.1,172.1 L1068.1,172.0 L1073.2,172.0 L1078.2,172.0 L1083.2,172.1 L1088.3,172.2 L1093.3,172.4 L1098.3,172.7 L1103.4,173.1 L1108.4,173.5 L1113.5,174.0 L1118.5,174.5 L1123.5,175.1 L1128.6,175.7 L1133.6,176.4 L1138.6,177.2 L1143.7,178.0 L1148.7,178.9 L1153.8,179.8 L1158.8,180.8 L1163.8,181.8 L1168.9,182.9 L1173.9,184.1 L1178.9,185.3 L1184.0,186.6 L1189.0,187.9 L1194.1,189.3 L1199.1,190.7 L1204.1,192.2 L1209.2,193.8 L1214.2,195.4 L1219.2,197.1 L1224.3,198.8 L1229.3,200.6 L1234.4,202.5 L1239.4,204.4 L1244.4,206.3 L1249.5,208.4 L1254.5,210.5 L1259.5,212.6 L1264.6,214.8 L1269.6,217.1 L1274.7,219.5 L1279.7,221.8 L1284.7,224.3 L1289.8,226.8 L1294.8,229.4 L1299.8,232.0 L1304.9,234.7 L1309.9,237.5 L1315.0,240.3 L1320.0,243.2 L1325.0,246.1 L1330.1,249.2 L1335.1,252.2 L1340.1,255.4 L1345.2,258.6 L1350.2,261.8 L1355.3,265.1 L1360.3,268.5 L1365.3,272.0 L1370.4,275.5 L1375.4,279.1 L1380.4,282.7 L1385.5,286.4 L1390.5,290.2 L1395.6,294.1 L1400.6,298.0 L1405.6,302.0 L1410.7,306.0 L1415.7,310.2 L1420.8,314.3 L1425.8,318.6 L1430.8,322.9 L1435.9,327.3 L1440.9,331.8 L1445.9,336.3 L1451.0,340.9 L1456.0,345.6 L1461.0,350.4 L1466.1,355.2 L1471.1,360.1 L1476.2,365.1 L1481.2,370.1 L1486.2,375.2 L1491.3,380.4 L1496.3,385.7 L1501.3,391.0 L1506.4,396.4 L1511.4,401.9 L1516.5,407.5 L1521.5,413.1 L1526.5,418.8 L1531.6,424.6 L1536.6,430.5 L1541.6,436.4 L1546.7,442.4 L1551.7,448.5 L1556.8,454.6 L1561.8,460.8 L1566.8,467.1 L1571.9,473.4 L1576.9,479.8 L1581.9,486.2 L1587.0,492.7 L1592.0,499.2 L1597.1,505.8 L1602.1,512.5 L1607.1,519.2 L1612.2,525.9 L1617.2,532.7 L1622.2,539.5 L1627.3,546.4 L1632.3,553.3 L1637.4,560.2 L1642.4,567.2 L1647.4,574.2 L1652.5,581.2 L1657.5,588.3 L1662.5,595.4 L1667.6,602.5 L1672.6,609.7 L1677.7,616.8 L1682.7,624.0 L1687.7,631.2 L1692.8,638.5 L1697.8,645.7 L1702.8,653.0 L1707.9,660.2 L1712.9,667.5 L1718.0,674.8 L1723.0,682.1 L1728.0,689.4 L1733.1,696.7 L1738.1,704.0 L1743.1,711.3 L1748.2,718.7 L1753.2,726.0 L1758.3,733.3 L1763.3,740.7 L1768.3,748.0 L1773.4,755.4 L1778.4,762.8 L1783.4,770.2 L1788.5,777.6 L1793.5,785.0 L1798.6,792.4 L1803.6,799.9 L1808.6,807.3 L1813.7,814.8 L1818.7,822.3 L1823.7,829.8 L1828.8,837.3 L1833.8,844.9 L1838.9,852.4 L1843.9,860.0 L1848.9,867.6 L1854.0,875.2 L1859.0,882.8 L1864.0,890.5 L1869.1,898.2 L1874.1,905.9 L1879.2,913.6 L1884.2,921.3 L1889.2,929.1 L1894.3,936.9 L1899.3,944.7 L1904.3,952.6 L1909.4,960.4 L1914.4,968.3 L1919.5,976.2 L1924.5,984.2 L1929.5,992.2 L1934.6,1000.2 L1939.6,1008.2 L1944.6,1016.2 L1949.7,1024.3 L1954.7,1032.3 L1959.8,1040.3 L1964.8,1048.3 L1969.8,1056.3 L1974.9,1064.3 L1979.9,1072.2 L1984.9,1080.1 L1990.0,1087.9 L1995.0,1095.7 L2000.1,1103.4 L2005.1,1111.1 L2010.1,1118.7 L2015.2,1126.2 L2020.2,1133.7 L2025.2,1141.0 L2030.3,1148.3 L2035.3,1155.4 L2040.4,1162.5 L2045.4,1169.6 L2050.4,1176.7 L2055.5,1183.7 L2060.5,1190.7 L2065.6,1197.8 L2070.6,1204.9 L2075.6,1212.1 L2080.7,1219.4 L2085.7,1226.7 L2090.7,1234.2 L2095.8,1241.8 L2100.8,1249.5 L2105.8,1257.4 L2110.9,1265.5 L2115.9,1273.8 L2121.0,1282.3 L2126.0,1291.0" stroke="#d62d7e" stroke-width="6.4" fill="none" stroke-linejoin="round" stroke-linecap="round"/><circle cx="111.0" cy="1291.0" r="7.35" stroke="#d62d7e" stroke-width="5.9" fill="none"/><circle cx="151.3" cy="1201.0" r="7.35" stroke="#d62d7e" stroke-width="5.9" fill="none"/><circle cx="211.8" cy="1020.7" r="7.35" stroke="#d62d7e" stroke-width="5.9" fill="none"/><circle cx="312.5" cy="896.2" r="7.35" stroke="#d62d7e" stroke-width="5.9" fill="none"/><circle cx="514.0" cy="569.3" r="7.35" stroke="#d62d7e" stroke-width="5.9" fill="none"/><circle cx="715.5" cy="387.8" r="7.35" stroke="#d62d7e" stroke-width="5.9" fill="none"/><circle cx="917.0" cy="216.3" r="7.35" stroke="#d62d7e" stroke-width="5.9" fill="none"/><circle cx="1118.5" cy="174.5" r="7.35" stroke="#d62d7e" stroke-width="5.9" fill="none"/><circle cx="1320.0" cy="243.2" r="7.35" stroke="#d62d7e" stroke-width="5.9" fill="none"/><circle cx="1521.5" cy="413.1" r="7.35" stroke="#d62d7e" stroke-width="5.9" fill="none"/><circle cx="1723.0" cy="682.1" r="7.35" stroke="#d62d7e" stroke-width="5.9" fill="none"/><circle cx="1924.5" cy="984.2" r="7.35" stroke="#d62d7e" stroke-width="5.9" fill="none"/><circle cx="2025.2" cy="1141.0" r="7.35" stroke="#d62d7e" stroke-width="5.9" fill="none"/><circle cx="2085.7" cy="1226.7" r="7.35" stroke="#d62d7e" stroke-width="5.9" fill="none"/><circle cx="2126.0" cy="1291.0" r="7.35" stroke="#d62d7e" stroke-width="5.9" fill="none"/></g>
<g filter="url(#sh)"><path d="M111.0,1291.0 L116.0,1288.3 L121.1,1282.6 L126.1,1274.1 L131.2,1263.1 L136.2,1249.9 L141.2,1234.7 L146.3,1217.9 L151.3,1199.6 L156.3,1180.2 L161.4,1160.0 L166.4,1139.1 L171.4,1117.9 L176.5,1096.7 L181.5,1075.6 L186.6,1055.1 L191.6,1035.3 L196.6,1016.5 L201.7,999.1 L206.7,983.2 L211.8,969.1 L216.8,957.1 L221.8,947.0 L226.9,938.7 L231.9,932.2 L236.9,927.1 L242.0,923.5 L247.0,921.0 L252.0,919.7 L257.1,919.4 L262.1,919.8 L267.2,920.9 L272.2,922.5 L277.2,924.6 L282.3,926.8 L287.3,929.1 L292.4,931.4 L297.4,933.5 L302.4,935.2 L307.5,936.5 L312.5,937.1 L317.5,937.0 L322.6,936.1 L327.6,934.5 L332.6,932.2 L337.7,929.3 L342.7,925.6 L347.8,921.4 L352.8,916.6 L357.8,911.2 L362.9,905.3 L367.9,898.8 L372.9,891.9 L378.0,884.5 L383.0,876.7 L388.1,868.4 L393.1,859.8 L398.1,850.8 L403.2,841.5 L408.2,831.9 L413.2,822.0 L418.3,811.8 L423.3,801.4 L428.4,790.8 L433.4,780.0 L438.4,769.1 L443.5,758.1 L448.5,746.9 L453.5,735.7 L458.6,724.4 L463.6,713.1 L468.7,701.8 L473.7,690.6 L478.7,679.4 L483.8,668.3 L488.8,657.2 L493.8,646.4 L498.9,635.6 L503.9,625.1 L509.0,614.8 L514.0,604.7 L519.0,594.9 L524.1,585.3 L529.1,576.0 L534.1,566.9 L539.2,558.1 L544.2,549.5 L549.3,541.1 L554.3,532.9 L559.3,525.0 L564.4,517.2 L569.4,509.7 L574.5,502.3 L579.5,495.2 L584.5,488.2 L589.6,481.4 L594.6,474.7 L599.6,468.2 L604.7,461.9 L609.7,455.7 L614.8,449.7 L619.8,443.8 L624.8,438.0 L629.9,432.3 L634.9,426.8 L639.9,421.3 L645.0,416.0 L650.0,410.7 L655.0,405.6 L660.1,400.5 L665.1,395.5 L670.2,390.6 L675.2,385.7 L680.2,380.9 L685.3,376.2 L690.3,371.4 L695.3,366.8 L700.4,362.1 L705.4,357.5 L710.5,352.9 L715.5,348.3 L720.5,343.7 L725.6,339.1 L730.6,334.6 L735.6,330.0 L740.7,325.5 L745.7,320.9 L750.8,316.4 L755.8,311.9 L760.8,307.5 L765.9,303.0 L770.9,298.6 L775.9,294.3 L781.0,289.9 L786.0,285.6 L791.1,281.4 L796.1,277.2 L801.1,273.0 L806.2,268.9 L811.2,264.8 L816.2,260.8 L821.3,256.8 L826.3,252.9 L831.4,249.1 L836.4,245.3 L841.4,241.6 L846.5,237.9 L851.5,234.3 L856.5,230.8 L861.6,227.4 L866.6,224.1 L871.7,220.8 L876.7,217.6 L881.7,214.5 L886.8,211.5 L891.8,208.6 L896.8,205.7 L901.9,203.0 L906.9,200.4 L912.0,197.8 L917.0,195.4 L922.0,193.1 L927.1,190.9 L932.1,188.7 L937.1,186.7 L942.2,184.8 L947.2,183.0 L952.3,181.3 L957.3,179.7 L962.3,178.2 L967.4,176.8 L972.4,175.5 L977.4,174.3 L982.5,173.2 L987.5,172.2 L992.6,171.3 L997.6,170.5 L1002.6,169.8 L1007.7,169.2 L1012.7,168.6 L1017.7,168.2 L1022.8,167.9 L1027.8,167.6 L1032.9,167.5 L1037.9,167.4 L1042.9,167.4 L1048.0,167.5 L1053.0,167.8 L1058.0,168.0 L1063.1,168.4 L1068.1,168.9 L1073.2,169.4 L1078.2,170.1 L1083.2,170.8 L1088.3,171.6 L1093.3,172.5 L1098.3,173.5 L1103.4,174.5 L1108.4,175.7 L1113.5,176.9 L1118.5,178.2 L1123.5,179.6 L1128.6,181.0 L1133.6,182.6 L1138.6,184.2 L1143.7,185.9 L1148.7,187.6 L1153.8,189.5 L1158.8,191.4 L1163.8,193.3 L1168.9,195.4 L1173.9,197.5 L1178.9,199.6 L1184.0,201.9 L1189.0,204.1 L1194.1,206.5 L1199.1,208.9 L1204.1,211.4 L1209.2,213.9 L1214.2,216.5 L1219.2,219.1 L1224.3,221.8 L1229.3,224.5 L1234.4,227.3 L1239.4,230.1 L1244.4,233.0 L1249.5,235.9 L1254.5,238.9 L1259.5,241.9 L1264.6,245.0 L1269.6,248.0 L1274.7,251.2 L1279.7,254.3 L1284.7,257.5 L1289.8,260.8 L1294.8,264.0 L1299.8,267.3 L1304.9,270.7 L1309.9,274.0 L1315.0,277.4 L1320.0,280.8 L1325.0,284.2 L1330.1,287.7 L1335.1,291.2 L1340.1,294.7 L1345.2,298.2 L1350.2,301.8 L1355.3,305.4 L1360.3,309.0 L1365.3,312.7 L1370.4,316.4 L1375.4,320.1 L1380.4,323.9 L1385.5,327.7 L1390.5,331.5 L1395.6,335.4 L1400.6,339.4 L1405.6,343.3 L1410.7,347.3 L1415.7,351.4 L1420.8,355.5 L1425.8,359.6 L1430.8,363.8 L1435.9,368.0 L1440.9,372.3 L1445.9,376.6 L1451.0,381.0 L1456.0,385.4 L1461.0,389.9 L1466.1,394.5 L1471.1,399.1 L1476.2,403.7 L1481.2,408.4 L1486.2,413.2 L1491.3,418.0 L1496.3,422.9 L1501.3,427.8 L1506.4,432.8 L1511.4,437.9 L1516.5,443.0 L1521.5,448.2 L1526.5,453.5 L1531.6,458.8 L1536.6,464.2 L1541.6,469.6 L1546.7,475.1 L1551.7,480.7 L1556.8,486.4 L1561.8,492.1 L1566.8,497.8 L1571.9,503.7 L1576.9,509.5 L1581.9,515.5 L1587.0,521.5 L1592.0,527.5 L1597.1,533.6 L1602.1,539.8 L1607.1,546.0 L1612.2,552.3 L1617.2,558.6 L1622.2,565.0 L1627.3,571.4 L1632.3,577.9 L1637.4,584.4 L1642.4,591.0 L1647.4,597.6 L1652.5,604.3 L1657.5,611.0 L1662.5,617.8 L1667.6,624.6 L1672.6,631.5 L1677.7,638.4 L1682.7,645.3 L1687.7,652.3 L1692.8,659.4 L1697.8,666.4 L1702.8,673.5 L1707.9,680.7 L1712.9,687.9 L1718.0,695.1 L1723.0,702.4 L1728.0,709.7 L1733.1,717.1 L1738.1,724.4 L1743.1,731.8 L1748.2,739.3 L1753.2,746.7 L1758.3,754.2 L1763.3,761.7 L1768.3,769.2 L1773.4,776.8 L1778.4,784.3 L1783.4,791.9 L1788.5,799.5 L1793.5,807.1 L1798.6,814.7 L1803.6,822.3 L1808.6,829.9 L1813.7,837.5 L1818.7,845.1 L1823.7,852.6 L1828.8,860.2 L1833.8,867.8 L1838.9,875.4 L1843.9,882.9 L1848.9,890.4 L1854.0,897.9 L1859.0,905.4 L1864.0,912.9 L1869.1,920.3 L1874.1,927.7 L1879.2,935.1 L1884.2,942.5 L1889.2,949.8 L1894.3,957.0 L1899.3,964.3 L1904.3,971.5 L1909.4,978.6 L1914.4,985.7 L1919.5,992.8 L1924.5,999.8 L1929.5,1006.8 L1934.6,1013.7 L1939.6,1020.6 L1944.6,1027.4 L1949.7,1034.2 L1954.7,1041.1 L1959.8,1047.9 L1964.8,1054.8 L1969.8,1061.7 L1974.9,1068.6 L1979.9,1075.5 L1984.9,1082.5 L1990.0,1089.6 L1995.0,1096.7 L2000.1,1104.0 L2005.1,1111.3 L2010.1,1118.7 L2015.2,1126.2 L2020.2,1133.8 L2025.2,1141.6 L2030.3,1149.5 L2035.3,1157.5 L2040.4,1165.6 L2045.4,1173.8 L2050.4,1181.9 L2055.5,1190.1 L2060.5,1198.3 L2065.6,1206.4 L2070.6,1214.5 L2075.6,1222.5 L2080.7,1230.3 L2085.7,1238.0 L2090.7,1245.5 L2095.8,1252.8 L2100.8,1259.9 L2105.8,1266.7 L2110.9,1273.3 L2115.9,1279.5 L2121.0,1285.4 L2126.0,1291.0" transform="translate(1.90,1.90)" stroke="#000" stroke-opacity="0.13" stroke-width="6" fill="none" stroke-linejoin="round" stroke-linecap="round"/><path d="M111.0,1291.0 L116.0,1288.3 L121.1,1282.6 L126.1,1274.1 L131.2,1263.1 L136.2,1249.9 L141.2,1234.7 L146.3,1217.9 L151.3,1199.6 L156.3,1180.2 L161.4,1160.0 L166.4,1139.1 L171.4,1117.9 L176.5,1096.7 L181.5,1075.6 L186.6,1055.1 L191.6,1035.3 L196.6,1016.5 L201.7,999.1 L206.7,983.2 L211.8,969.1 L216.8,957.1 L221.8,947.0 L226.9,938.7 L231.9,932.2 L236.9,927.1 L242.0,923.5 L247.0,921.0 L252.0,919.7 L257.1,919.4 L262.1,919.8 L267.2,920.9 L272.2,922.5 L277.2,924.6 L282.3,926.8 L287.3,929.1 L292.4,931.4 L297.4,933.5 L302.4,935.2 L307.5,936.5 L312.5,937.1 L317.5,937.0 L322.6,936.1 L327.6,934.5 L332.6,932.2 L337.7,929.3 L342.7,925.6 L347.8,921.4 L352.8,916.6 L357.8,911.2 L362.9,905.3 L367.9,898.8 L372.9,891.9 L378.0,884.5 L383.0,876.7 L388.1,868.4 L393.1,859.8 L398.1,850.8 L403.2,841.5 L408.2,831.9 L413.2,822.0 L418.3,811.8 L423.3,801.4 L428.4,790.8 L433.4,780.0 L438.4,769.1 L443.5,758.1 L448.5,746.9 L453.5,735.7 L458.6,724.4 L463.6,713.1 L468.7,701.8 L473.7,690.6 L478.7,679.4 L483.8,668.3 L488.8,657.2 L493.8,646.4 L498.9,635.6 L503.9,625.1 L509.0,614.8 L514.0,604.7 L519.0,594.9 L524.1,585.3 L529.1,576.0 L534.1,566.9 L539.2,558.1 L544.2,549.5 L549.3,541.1 L554.3,532.9 L559.3,525.0 L564.4,517.2 L569.4,509.7 L574.5,502.3 L579.5,495.2 L584.5,488.2 L589.6,481.4 L594.6,474.7 L599.6,468.2 L604.7,461.9 L609.7,455.7 L614.8,449.7 L619.8,443.8 L624.8,438.0 L629.9,432.3 L634.9,426.8 L639.9,421.3 L645.0,416.0 L650.0,410.7 L655.0,405.6 L660.1,400.5 L665.1,395.5 L670.2,390.6 L675.2,385.7 L680.2,380.9 L685.3,376.2 L690.3,371.4 L695.3,366.8 L700.4,362.1 L705.4,357.5 L710.5,352.9 L715.5,348.3 L720.5,343.7 L725.6,339.1 L730.6,334.6 L735.6,330.0 L740.7,325.5 L745.7,320.9 L750.8,316.4 L755.8,311.9 L760.8,307.5 L765.9,303.0 L770.9,298.6 L775.9,294.3 L781.0,289.9 L786.0,285.6 L791.1,281.4 L796.1,277.2 L801.1,273.0 L806.2,268.9 L811.2,264.8 L816.2,260.8 L821.3,256.8 L826.3,252.9 L831.4,249.1 L836.4,245.3 L841.4,241.6 L846.5,237.9 L851.5,234.3 L856.5,230.8 L861.6,227.4 L866.6,224.1 L871.7,220.8 L876.7,217.6 L881.7,214.5 L886.8,211.5 L891.8,208.6 L896.8,205.7 L901.9,203.0 L906.9,200.4 L912.0,197.8 L917.0,195.4 L922.0,193.1 L927.1,190.9 L932.1,188.7 L937.1,186.7 L942.2,184.8 L947.2,183.0 L952.3,181.3 L957.3,179.7 L962.3,178.2 L967.4,176.8 L972.4,175.5 L977.4,174.3 L982.5,173.2 L987.5,172.2 L992.6,171.3 L997.6,170.5 L1002.6,169.8 L1007.7,169.2 L1012.7,168.6 L1017.7,168.2 L1022.8,167.9 L1027.8,167.6 L1032.9,167.5 L1037.9,167.4 L1042.9,167.4 L1048.0,167.5 L1053.0,167.8 L1058.0,168.0 L1063.1,168.4 L1068.1,168.9 L1073.2,169.4 L1078.2,170.1 L1083.2,170.8 L1088.3,171.6 L1093.3,172.5 L1098.3,173.5 L1103.4,174.5 L1108.4,175.7 L1113.5,176.9 L1118.5,178.2 L1123.5,179.6 L1128.6,181.0 L1133.6,182.6 L1138.6,184.2 L1143.7,185.9 L1148.7,187.6 L1153.8,189.5 L1158.8,191.4 L1163.8,193.3 L1168.9,195.4 L1173.9,197.5 L1178.9,199.6 L1184.0,201.9 L1189.0,204.1 L1194.1,206.5 L1199.1,208.9 L1204.1,211.4 L1209.2,213.9 L1214.2,216.5 L1219.2,219.1 L1224.3,221.8 L1229.3,224.5 L1234.4,227.3 L1239.4,230.1 L1244.4,233.0 L1249.5,235.9 L1254.5,238.9 L1259.5,241.9 L1264.6,245.0 L1269.6,248.0 L1274.7,251.2 L1279.7,254.3 L1284.7,257.5 L1289.8,260.8 L1294.8,264.0 L1299.8,267.3 L1304.9,270.7 L1309.9,274.0 L1315.0,277.4 L1320.0,280.8 L1325.0,284.2 L1330.1,287.7 L1335.1,291.2 L1340.1,294.7 L1345.2,298.2 L1350.2,301.8 L1355.3,305.4 L1360.3,309.0 L1365.3,312.7 L1370.4,316.4 L1375.4,320.1 L1380.4,323.9 L1385.5,327.7 L1390.5,331.5 L1395.6,335.4 L1400.6,339.4 L1405.6,343.3 L1410.7,347.3 L1415.7,351.4 L1420.8,355.5 L1425.8,359.6 L1430.8,363.8 L1435.9,368.0 L1440.9,372.3 L1445.9,376.6 L1451.0,381.0 L1456.0,385.4 L1461.0,389.9 L1466.1,394.5 L1471.1,399.1 L1476.2,403.7 L1481.2,408.4 L1486.2,413.2 L1491.3,418.0 L1496.3,422.9 L1501.3,427.8 L1506.4,432.8 L1511.4,437.9 L1516.5,443.0 L1521.5,448.2 L1526.5,453.5 L1531.6,458.8 L1536.6,464.2 L1541.6,469.6 L1546.7,475.1 L1551.7,480.7 L1556.8,486.4 L1561.8,492.1 L1566.8,497.8 L1571.9,503.7 L1576.9,509.5 L1581.9,515.5 L1587.0,521.5 L1592.0,527.5 L1597.1,533.6 L1602.1,539.8 L1607.1,546.0 L1612.2,552.3 L1617.2,558.6 L1622.2,565.0 L1627.3,571.4 L1632.3,577.9 L1637.4,584.4 L1642.4,591.0 L1647.4,597.6 L1652.5,604.3 L1657.5,611.0 L1662.5,617.8 L1667.6,624.6 L1672.6,631.5 L1677.7,638.4 L1682.7,645.3 L1687.7,652.3 L1692.8,659.4 L1697.8,666.4 L1702.8,673.5 L1707.9,680.7 L1712.9,687.9 L1718.0,695.1 L1723.0,702.4 L1728.0,709.7 L1733.1,717.1 L1738.1,724.4 L1743.1,731.8 L1748.2,739.3 L1753.2,746.7 L1758.3,754.2 L1763.3,761.7 L1768.3,769.2 L1773.4,776.8 L1778.4,784.3 L1783.4,791.9 L1788.5,799.5 L1793.5,807.1 L1798.6,814.7 L1803.6,822.3 L1808.6,829.9 L1813.7,837.5 L1818.7,845.1 L1823.7,852.6 L1828.8,860.2 L1833.8,867.8 L1838.9,875.4 L1843.9,882.9 L1848.9,890.4 L1854.0,897.9 L1859.0,905.4 L1864.0,912.9 L1869.1,920.3 L1874.1,927.7 L1879.2,935.1 L1884.2,942.5 L1889.2,949.8 L1894.3,957.0 L1899.3,964.3 L1904.3,971.5 L1909.4,978.6 L1914.4,985.7 L1919.5,992.8 L1924.5,999.8 L1929.5,1006.8 L1934.6,1013.7 L1939.6,1020.6 L1944.6,1027.4 L1949.7,1034.2 L1954.7,1041.1 L1959.8,1047.9 L1964.8,1054.8 L1969.8,1061.7 L1974.9,1068.6 L1979.9,1075.5 L1984.9,1082.5 L1990.0,1089.6 L1995.0,1096.7 L2000.1,1104.0 L2005.1,1111.3 L2010.1,1118.7 L2015.2,1126.2 L2020.2,1133.8 L2025.2,1141.6 L2030.3,1149.5 L2035.3,1157.5 L2040.4,1165.6 L2045.4,1173.8 L2050.4,1181.9 L2055.5,1190.1 L2060.5,1198.3 L2065.6,1206.4 L2070.6,1214.5 L2075.6,1222.5 L2080.7,1230.3 L2085.7,1238.0 L2090.7,1245.5 L2095.8,1252.8 L2100.8,1259.9 L2105.8,1266.7 L2110.9,1273.3 L2115.9,1279.5 L2121.0,1285.4 L2126.0,1291.0" transform="translate(3.80,3.80)" stroke="#000" stroke-opacity="0.13" stroke-width="6" fill="none" stroke-linejoin="round" stroke-linecap="round"/><path d="M111.0,1291.0 L116.0,1288.3 L121.1,1282.6 L126.1,1274.1 L131.2,1263.1 L136.2,1249.9 L141.2,1234.7 L146.3,1217.9 L151.3,1199.6 L156.3,1180.2 L161.4,1160.0 L166.4,1139.1 L171.4,1117.9 L176.5,1096.7 L181.5,1075.6 L186.6,1055.1 L191.6,1035.3 L196.6,1016.5 L201.7,999.1 L206.7,983.2 L211.8,969.1 L216.8,957.1 L221.8,947.0 L226.9,938.7 L231.9,932.2 L236.9,927.1 L242.0,923.5 L247.0,921.0 L252.0,919.7 L257.1,919.4 L262.1,919.8 L267.2,920.9 L272.2,922.5 L277.2,924.6 L282.3,926.8 L287.3,929.1 L292.4,931.4 L297.4,933.5 L302.4,935.2 L307.5,936.5 L312.5,937.1 L317.5,937.0 L322.6,936.1 L327.6,934.5 L332.6,932.2 L337.7,929.3 L342.7,925.6 L347.8,921.4 L352.8,916.6 L357.8,911.2 L362.9,905.3 L367.9,898.8 L372.9,891.9 L378.0,884.5 L383.0,876.7 L388.1,868.4 L393.1,859.8 L398.1,850.8 L403.2,841.5 L408.2,831.9 L413.2,822.0 L418.3,811.8 L423.3,801.4 L428.4,790.8 L433.4,780.0 L438.4,769.1 L443.5,758.1 L448.5,746.9 L453.5,735.7 L458.6,724.4 L463.6,713.1 L468.7,701.8 L473.7,690.6 L478.7,679.4 L483.8,668.3 L488.8,657.2 L493.8,646.4 L498.9,635.6 L503.9,625.1 L509.0,614.8 L514.0,604.7 L519.0,594.9 L524.1,585.3 L529.1,576.0 L534.1,566.9 L539.2,558.1 L544.2,549.5 L549.3,541.1 L554.3,532.9 L559.3,525.0 L564.4,517.2 L569.4,509.7 L574.5,502.3 L579.5,495.2 L584.5,488.2 L589.6,481.4 L594.6,474.7 L599.6,468.2 L604.7,461.9 L609.7,455.7 L614.8,449.7 L619.8,443.8 L624.8,438.0 L629.9,432.3 L634.9,426.8 L639.9,421.3 L645.0,416.0 L650.0,410.7 L655.0,405.6 L660.1,400.5 L665.1,395.5 L670.2,390.6 L675.2,385.7 L680.2,380.9 L685.3,376.2 L690.3,371.4 L695.3,366.8 L700.4,362.1 L705.4,357.5 L710.5,352.9 L715.5,348.3 L720.5,343.7 L725.6,339.1 L730.6,334.6 L735.6,330.0 L740.7,325.5 L745.7,320.9 L750.8,316.4 L755.8,311.9 L760.8,307.5 L765.9,303.0 L770.9,298.6 L775.9,294.3 L781.0,289.9 L786.0,285.6 L791.1,281.4 L796.1,277.2 L801.1,273.0 L806.2,268.9 L811.2,264.8 L816.2,260.8 L821.3,256.8 L826.3,252.9 L831.4,249.1 L836.4,245.3 L841.4,241.6 L846.5,237.9 L851.5,234.3 L856.5,230.8 L861.6,227.4 L866.6,224.1 L871.7,220.8 L876.7,217.6 L881.7,214.5 L886.8,211.5 L891.8,208.6 L896.8,205.7 L901.9,203.0 L906.9,200.4 L912.0,197.8 L917.0,195.4 L922.0,193.1 L927.1,190.9 L932.1,188.7 L937.1,186.7 L942.2,184.8 L947.2,183.0 L952.3,181.3 L957.3,179.7 L962.3,178.2 L967.4,176.8 L972.4,175.5 L977.4,174.3 L982.5,173.2 L987.5,172.2 L992.6,171.3 L997.6,170.5 L1002.6,169.8 L1007.7,169.2 L1012.7,168.6 L1017.7,168.2 L1022.8,167.9 L1027.8,167.6 L1032.9,167.5 L1037.9,167.4 L1042.9,167.4 L1048.0,167.5 L1053.0,167.8 L1058.0,168.0 L1063.1,168.4 L1068.1,168.9 L1073.2,169.4 L1078.2,170.1 L1083.2,170.8 L1088.3,171.6 L1093.3,172.5 L1098.3,173.5 L1103.4,174.5 L1108.4,175.7 L1113.5,176.9 L1118.5,178.2 L1123.5,179.6 L1128.6,181.0 L1133.6,182.6 L1138.6,184.2 L1143.7,185.9 L1148.7,187.6 L1153.8,189.5 L1158.8,191.4 L1163.8,193.3 L1168.9,195.4 L1173.9,197.5 L1178.9,199.6 L1184.0,201.9 L1189.0,204.1 L1194.1,206.5 L1199.1,208.9 L1204.1,211.4 L1209.2,213.9 L1214.2,216.5 L1219.2,219.1 L1224.3,221.8 L1229.3,224.5 L1234.4,227.3 L1239.4,230.1 L1244.4,233.0 L1249.5,235.9 L1254.5,238.9 L1259.5,241.9 L1264.6,245.0 L1269.6,248.0 L1274.7,251.2 L1279.7,254.3 L1284.7,257.5 L1289.8,260.8 L1294.8,264.0 L1299.8,267.3 L1304.9,270.7 L1309.9,274.0 L1315.0,277.4 L1320.0,280.8 L1325.0,284.2 L1330.1,287.7 L1335.1,291.2 L1340.1,294.7 L1345.2,298.2 L1350.2,301.8 L1355.3,305.4 L1360.3,309.0 L1365.3,312.7 L1370.4,316.4 L1375.4,320.1 L1380.4,323.9 L1385.5,327.7 L1390.5,331.5 L1395.6,335.4 L1400.6,339.4 L1405.6,343.3 L1410.7,347.3 L1415.7,351.4 L1420.8,355.5 L1425.8,359.6 L1430.8,363.8 L1435.9,368.0 L1440.9,372.3 L1445.9,376.6 L1451.0,381.0 L1456.0,385.4 L1461.0,389.9 L1466.1,394.5 L1471.1,399.1 L1476.2,403.7 L1481.2,408.4 L1486.2,413.2 L1491.3,418.0 L1496.3,422.9 L1501.3,427.8 L1506.4,432.8 L1511.4,437.9 L1516.5,443.0 L1521.5,448.2 L1526.5,453.5 L1531.6,458.8 L1536.6,464.2 L1541.6,469.6 L1546.7,475.1 L1551.7,480.7 L1556.8,486.4 L1561.8,492.1 L1566.8,497.8 L1571.9,503.7 L1576.9,509.5 L1581.9,515.5 L1587.0,521.5 L1592.0,527.5 L1597.1,533.6 L1602.1,539.8 L1607.1,546.0 L1612.2,552.3 L1617.2,558.6 L1622.2,565.0 L1627.3,571.4 L1632.3,577.9 L1637.4,584.4 L1642.4,591.0 L1647.4,597.6 L1652.5,604.3 L1657.5,611.0 L1662.5,617.8 L1667.6,624.6 L1672.6,631.5 L1677.7,638.4 L1682.7,645.3 L1687.7,652.3 L1692.8,659.4 L1697.8,666.4 L1702.8,673.5 L1707.9,680.7 L1712.9,687.9 L1718.0,695.1 L1723.0,702.4 L1728.0,709.7 L1733.1,717.1 L1738.1,724.4 L1743.1,731.8 L1748.2,739.3 L1753.2,746.7 L1758.3,754.2 L1763.3,761.7 L1768.3,769.2 L1773.4,776.8 L1778.4,784.3 L1783.4,791.9 L1788.5,799.5 L1793.5,807.1 L1798.6,814.7 L1803.6,822.3 L1808.6,829.9 L1813.7,837.5 L1818.7,845.1 L1823.7,852.6 L1828.8,860.2 L1833.8,867.8 L1838.9,875.4 L1843.9,882.9 L1848.9,890.4 L1854.0,897.9 L1859.0,905.4 L1864.0,912.9 L1869.1,920.3 L1874.1,927.7 L1879.2,935.1 L1884.2,942.5 L1889.2,949.8 L1894.3,957.0 L1899.3,964.3 L1904.3,971.5 L1909.4,978.6 L1914.4,985.7 L1919.5,992.8 L1924.5,999.8 L1929.5,1006.8 L1934.6,1013.7 L1939.6,1020.6 L1944.6,1027.4 L1949.7,1034.2 L1954.7,1041.1 L1959.8,1047.9 L1964.8,1054.8 L1969.8,1061.7 L1974.9,1068.6 L1979.9,1075.5 L1984.9,1082.5 L1990.0,1089.6 L1995.0,1096.7 L2000.1,1104.0 L2005.1,1111.3 L2010.1,1118.7 L2015.2,1126.2 L2020.2,1133.8 L2025.2,1141.6 L2030.3,1149.5 L2035.3,1157.5 L2040.4,1165.6 L2045.4,1173.8 L2050.4,1181.9 L2055.5,1190.1 L2060.5,1198.3 L2065.6,1206.4 L2070.6,1214.5 L2075.6,1222.5 L2080.7,1230.3 L2085.7,1238.0 L2090.7,1245.5 L2095.8,1252.8 L2100.8,1259.9 L2105.8,1266.7 L2110.9,1273.3 L2115.9,1279.5 L2121.0,1285.4 L2126.0,1291.0" transform="translate(5.70,5.70)" stroke="#000" stroke-opacity="0.13" stroke-width="6" fill="none" stroke-linejoin="round" stroke-linecap="round"/></g>
<g filter="url(#soft)"><path d="M111.0,1291.0 L116.0,1288.3 L121.1,1282.6 L126.1,1274.1 L131.2,1263.1 L136.2,1249.9 L141.2,1234.7 L146.3,1217.9 L151.3,1199.6 L156.3,1180.2 L161.4,1160.0 L166.4,1139.1 L171.4,1117.9 L176.5,1096.7 L181.5,1075.6 L186.6,1055.1 L191.6,1035.3 L196.6,1016.5 L201.7,999.1 L206.7,983.2 L211.8,969.1 L216.8,957.1 L221.8,947.0 L226.9,938.7 L231.9,932.2 L236.9,927.1 L242.0,923.5 L247.0,921.0 L252.0,919.7 L257.1,919.4 L262.1,919.8 L267.2,920.9 L272.2,922.5 L277.2,924.6 L282.3,926.8 L287.3,929.1 L292.4,931.4 L297.4,933.5 L302.4,935.2 L307.5,936.5 L312.5,937.1 L317.5,937.0 L322.6,936.1 L327.6,934.5 L332.6,932.2 L337.7,929.3 L342.7,925.6 L347.8,921.4 L352.8,916.6 L357.8,911.2 L362.9,905.3 L367.9,898.8 L372.9,891.9 L378.0,884.5 L383.0,876.7 L388.1,868.4 L393.1,859.8 L398.1,850.8 L403.2,841.5 L408.2,831.9 L413.2,822.0 L418.3,811.8 L423.3,801.4 L428.4,790.8 L433.4,780.0 L438.4,769.1 L443.5,758.1 L448.5,746.9 L453.5,735.7 L458.6,724.4 L463.6,713.1 L468.7,701.8 L473.7,690.6 L478.7,679.4 L483.8,668.3 L488.8,657.2 L493.8,646.4 L498.9,635.6 L503.9,625.1 L509.0,614.8 L514.0,604.7 L519.0,594.9 L524.1,585.3 L529.1,576.0 L534.1,566.9 L539.2,558.1 L544.2,549.5 L549.3,541.1 L554.3,532.9 L559.3,525.0 L564.4,517.2 L569.4,509.7 L574.5,502.3 L579.5,495.2 L584.5,488.2 L589.6,481.4 L594.6,474.7 L599.6,468.2 L604.7,461.9 L609.7,455.7 L614.8,449.7 L619.8,443.8 L624.8,438.0 L629.9,432.3 L634.9,426.8 L639.9,421.3 L645.0,416.0 L650.0,410.7 L655.0,405.6 L660.1,400.5 L665.1,395.5 L670.2,390.6 L675.2,385.7 L680.2,380.9 L685.3,376.2 L690.3,371.4 L695.3,366.8 L700.4,362.1 L705.4,357.5 L710.5,352.9 L715.5,348.3 L720.5,343.7 L725.6,339.1 L730.6,334.6 L735.6,330.0 L740.7,325.5 L745.7,320.9 L750.8,316.4 L755.8,311.9 L760.8,307.5 L765.9,303.0 L770.9,298.6 L775.9,294.3 L781.0,289.9 L786.0,285.6 L791.1,281.4 L796.1,277.2 L801.1,273.0 L806.2,268.9 L811.2,264.8 L816.2,260.8 L821.3,256.8 L826.3,252.9 L831.4,249.1 L836.4,245.3 L841.4,241.6 L846.5,237.9 L851.5,234.3 L856.5,230.8 L861.6,227.4 L866.6,224.1 L871.7,220.8 L876.7,217.6 L881.7,214.5 L886.8,211.5 L891.8,208.6 L896.8,205.7 L901.9,203.0 L906.9,200.4 L912.0,197.8 L917.0,195.4 L922.0,193.1 L927.1,190.9 L932.1,188.7 L937.1,186.7 L942.2,184.8 L947.2,183.0 L952.3,181.3 L957.3,179.7 L962.3,178.2 L967.4,176.8 L972.4,175.5 L977.4,174.3 L982.5,173.2 L987.5,172.2 L992.6,171.3 L997.6,170.5 L1002.6,169.8 L1007.7,169.2 L1012.7,168.6 L1017.7,168.2 L1022.8,167.9 L1027.8,167.6 L1032.9,167.5 L1037.9,167.4 L1042.9,167.4 L1048.0,167.5 L1053.0,167.8 L1058.0,168.0 L1063.1,168.4 L1068.1,168.9 L1073.2,169.4 L1078.2,170.1 L1083.2,170.8 L1088.3,171.6 L1093.3,172.5 L1098.3,173.5 L1103.4,174.5 L1108.4,175.7 L1113.5,176.9 L1118.5,178.2 L1123.5,179.6 L1128.6,181.0 L1133.6,182.6 L1138.6,184.2 L1143.7,185.9 L1148.7,187.6 L1153.8,189.5 L1158.8,191.4 L1163.8,193.3 L1168.9,195.4 L1173.9,197.5 L1178.9,199.6 L1184.0,201.9 L1189.0,204.1 L1194.1,206.5 L1199.1,208.9 L1204.1,211.4 L1209.2,213.9 L1214.2,216.5 L1219.2,219.1 L1224.3,221.8 L1229.3,224.5 L1234.4,227.3 L1239.4,230.1 L1244.4,233.0 L1249.5,235.9 L1254.5,238.9 L1259.5,241.9 L1264.6,245.0 L1269.6,248.0 L1274.7,251.2 L1279.7,254.3 L1284.7,257.5 L1289.8,260.8 L1294.8,264.0 L1299.8,267.3 L1304.9,270.7 L1309.9,274.0 L1315.0,277.4 L1320.0,280.8 L1325.0,284.2 L1330.1,287.7 L1335.1,291.2 L1340.1,294.7 L1345.2,298.2 L1350.2,301.8 L1355.3,305.4 L1360.3,309.0 L1365.3,312.7 L1370.4,316.4 L1375.4,320.1 L1380.4,323.9 L1385.5,327.7 L1390.5,331.5 L1395.6,335.4 L1400.6,339.4 L1405.6,343.3 L1410.7,347.3 L1415.7,351.4 L1420.8,355.5 L1425.8,359.6 L1430.8,363.8 L1435.9,368.0 L1440.9,372.3 L1445.9,376.6 L1451.0,381.0 L1456.0,385.4 L1461.0,389.9 L1466.1,394.5 L1471.1,399.1 L1476.2,403.7 L1481.2,408.4 L1486.2,413.2 L1491.3,418.0 L1496.3,422.9 L1501.3,427.8 L1506.4,432.8 L1511.4,437.9 L1516.5,443.0 L1521.5,448.2 L1526.5,453.5 L1531.6,458.8 L1536.6,464.2 L1541.6,469.6 L1546.7,475.1 L1551.7,480.7 L1556.8,486.4 L1561.8,492.1 L1566.8,497.8 L1571.9,503.7 L1576.9,509.5 L1581.9,515.5 L1587.0,521.5 L1592.0,527.5 L1597.1,533.6 L1602.1,539.8 L1607.1,546.0 L1612.2,552.3 L1617.2,558.6 L1622.2,565.0 L1627.3,571.4 L1632.3,577.9 L1637.4,584.4 L1642.4,591.0 L1647.4,597.6 L1652.5,604.3 L1657.5,611.0 L1662.5,617.8 L1667.6,624.6 L1672.6,631.5 L1677.7,638.4 L1682.7,645.3 L1687.7,652.3 L1692.8,659.4 L1697.8,666.4 L1702.8,673.5 L1707.9,680.7 L1712.9,687.9 L1718.0,695.1 L1723.0,702.4 L1728.0,709.7 L1733.1,717.1 L1738.1,724.4 L1743.1,731.8 L1748.2,739.3 L1753.2,746.7 L1758.3,754.2 L1763.3,761.7 L1768.3,769.2 L1773.4,776.8 L1778.4,784.3 L1783.4,791.9 L1788.5,799.5 L1793.5,807.1 L1798.6,814.7 L1803.6,822.3 L1808.6,829.9 L1813.7,837.5 L1818.7,845.1 L1823.7,852.6 L1828.8,860.2 L1833.8,867.8 L1838.9,875.4 L1843.9,882.9 L1848.9,890.4 L1854.0,897.9 L1859.0,905.4 L1864.0,912.9 L1869.1,920.3 L1874.1,927.7 L1879.2,935.1 L1884.2,942.5 L1889.2,949.8 L1894.3,957.0 L1899.3,964.3 L1904.3,971.5 L1909.4,978.6 L1914.4,985.7 L1919.5,992.8 L1924.5,999.8 L1929.5,1006.8 L1934.6,1013.7 L1939.6,1020.6 L1944.6,1027.4 L1949.7,1034.2 L1954.7,1041.1 L1959.8,1047.9 L1964.8,1054.8 L1969.8,1061.7 L1974.9,1068.6 L1979.9,1075.5 L1984.9,1082.5 L1990.0,1089.6 L1995.0,1096.7 L2000.1,1104.0 L2005.1,1111.3 L2010.1,1118.7 L2015.2,1126.2 L2020.2,1133.8 L2025.2,1141.6 L2030.3,1149.5 L2035.3,1157.5 L2040.4,1165.6 L2045.4,1173.8 L2050.4,1181.9 L2055.5,1190.1 L2060.5,1198.3 L2065.6,1206.4 L2070.6,1214.5 L2075.6,1222.5 L2080.7,1230.3 L2085.7,1238.0 L2090.7,1245.5 L2095.8,1252.8 L2100.8,1259.9 L2105.8,1266.7 L2110.9,1273.3 L2115.9,1279.5 L2121.0,1285.4 L2126.0,1291.0" stroke="#fbec4e" stroke-width="6.4" fill="none" stroke-linejoin="round" stroke-linecap="round"/></g>
<g filter="url(#sh)"><circle cx="112.9" cy="1292.9" r="7.35" stroke="#000" stroke-opacity="0.13" stroke-width="5.9" fill="none"/><circle cx="114.8" cy="1294.8" r="7.35" stroke="#000" stroke-opacity="0.13" stroke-width="5.9" fill="none"/><circle cx="116.7" cy="1296.7" r="7.35" stroke="#000" stroke-opacity="0.13" stroke-width="5.9" fill="none"/><circle cx="153.2" cy="1201.5" r="7.35" stroke="#000" stroke-opacity="0.13" stroke-width="5.9" fill="none"/><circle cx="155.1" cy="1203.4" r="7.35" stroke="#000" stroke-opacity="0.13" stroke-width="5.9" fill="none"/><circle cx="157.0" cy="1205.3" r="7.35" stroke="#000" stroke-opacity="0.13" stroke-width="5.9" fill="none"/><circle cx="213.7" cy="971.0" r="7.35" stroke="#000" stroke-opacity="0.13" stroke-width="5.9" fill="none"/><circle cx="215.6" cy="972.9" r="7.35" stroke="#000" stroke-opacity="0.13" stroke-width="5.9" fill="none"/><circle cx="217.4" cy="974.8" r="7.35" stroke="#000" stroke-opacity="0.13" stroke-width="5.9" fill="none"/><circle cx="314.4" cy="939.0" r="7.35" stroke="#000" stroke-opacity="0.13" stroke-width="5.9" fill="none"/><circle cx="316.3" cy="940.9" r="7.35" stroke="#000" stroke-opacity="0.13" stroke-width="5.9" fill="none"/><circle cx="318.2" cy="942.8" r="7.35" stroke="#000" stroke-opacity="0.13" stroke-width="5.9" fill="none"/><circle cx="515.9" cy="606.6" r="7.35" stroke="#000" stroke-opacity="0.13" stroke-width="5.9" fill="none"/><circle cx="517.8" cy="608.5" r="7.35" stroke="#000" stroke-opacity="0.13" stroke-width="5.9" fill="none"/><circle cx="519.7" cy="610.4" r="7.35" stroke="#000" stroke-opacity="0.13" stroke-width="5.9" fill="none"/><circle cx="717.4" cy="350.2" r="7.35" stroke="#000" stroke-opacity="0.13" stroke-width="5.9" fill="none"/><circle cx="719.3" cy="352.1" r="7.35" stroke="#000" stroke-opacity="0.13" stroke-width="5.9" fill="none"/><circle cx="721.2" cy="354.0" r="7.35" stroke="#000" stroke-opacity="0.13" stroke-width="5.9" fill="none"/><circle cx="918.9" cy="197.3" r="7.35" stroke="#000" stroke-opacity="0.13" stroke-width="5.9" fill="none"/><circle cx="920.8" cy="199.2" r="7.35" stroke="#000" stroke-opacity="0.13" stroke-width="5.9" fill="none"/><circle cx="922.7" cy="201.1" r="7.35" stroke="#000" stroke-opacity="0.13" stroke-width="5.9" fill="none"/><circle cx="1120.4" cy="180.1" r="7.35" stroke="#000" stroke-opacity="0.13" stroke-width="5.9" fill="none"/><circle cx="1122.3" cy="182.0" r="7.35" stroke="#000" stroke-opacity="0.13" stroke-width="5.9" fill="none"/><circle cx="1124.2" cy="183.9" r="7.35" stroke="#000" stroke-opacity="0.13" stroke-width="5.9" fill="none"/><circle cx="1321.9" cy="282.7" r="7.35" stroke="#000" stroke-opacity="0.13" stroke-width="5.9" fill="none"/><circle cx="1323.8" cy="284.6" r="7.35" stroke="#000" stroke-opacity="0.13" stroke-width="5.9" fill="none"/><circle cx="1325.7" cy="286.5" r="7.35" stroke="#000" stroke-opacity="0.13" stroke-width="5.9" fill="none"/><circle cx="1523.4" cy="450.1" r="7.35" stroke="#000" stroke-opacity="0.13" stroke-width="5.9" fill="none"/><circle cx="1525.3" cy="452.0" r="7.35" stroke="#000" stroke-opacity="0.13" stroke-width="5.9" fill="none"/><circle cx="1527.2" cy="453.9" r="7.35" stroke="#000" stroke-opacity="0.13" stroke-width="5.9" fill="none"/><circle cx="1724.9" cy="704.3" r="7.35" stroke="#000" stroke-opacity="0.13" stroke-width="5.9" fill="none"/><circle cx="1726.8" cy="706.2" r="7.35" stroke="#000" stroke-opacity="0.13" stroke-width="5.9" fill="none"/><circle cx="1728.7" cy="708.1" r="7.35" stroke="#000" stroke-opacity="0.13" stroke-width="5.9" fill="none"/><circle cx="1926.4" cy="1001.7" r="7.35" stroke="#000" stroke-opacity="0.13" stroke-width="5.9" fill="none"/><circle cx="1928.3" cy="1003.6" r="7.35" stroke="#000" stroke-opacity="0.13" stroke-width="5.9" fill="none"/><circle cx="1930.2" cy="1005.5" r="7.35" stroke="#000" stroke-opacity="0.13" stroke-width="5.9" fill="none"/><circle cx="2027.1" cy="1143.5" r="7.35" stroke="#000" stroke-opacity="0.13" stroke-width="5.9" fill="none"/><circle cx="2029.0" cy="1145.4" r="7.35" stroke="#000" stroke-opacity="0.13" stroke-width="5.9" fill="none"/><circle cx="2030.9" cy="1147.3" r="7.35" stroke="#000" stroke-opacity="0.13" stroke-width="5.9" fill="none"/><circle cx="2087.6" cy="1239.9" r="7.35" stroke="#000" stroke-opacity="0.13" stroke-width="5.9" fill="none"/><circle cx="2089.5" cy="1241.8" r="7.35" stroke="#000" stroke-opacity="0.13" stroke-width="5.9" fill="none"/><circle cx="2091.4" cy="1243.7" r="7.35" stroke="#000" stroke-opacity="0.13" stroke-width="5.9" fill="none"/><circle cx="2127.9" cy="1292.9" r="7.35" stroke="#000" stroke-opacity="0.13" stroke-width="5.9" fill="none"/><circle cx="2129.8" cy="1294.8" r="7.35" stroke="#000" stroke-opacity="0.13" stroke-width="5.9" fill="none"/><circle cx="2131.7" cy="1296.7" r="7.35" stroke="#000" stroke-opacity="0.13" stroke-width="5.9" fill="none"/></g>
<g filter="url(#soft)"><circle cx="111.0" cy="1291.0" r="7.35" stroke="#fbec4e" stroke-width="5.9" fill="none"/><circle cx="151.3" cy="1199.6" r="7.35" stroke="#fbec4e" stroke-width="5.9" fill="none"/><circle cx="211.8" cy="969.1" r="7.35" stroke="#fbec4e" stroke-width="5.9" fill="none"/><circle cx="312.5" cy="937.1" r="7.35" stroke="#fbec4e" stroke-width="5.9" fill="none"/><circle cx="514.0" cy="604.7" r="7.35" stroke="#fbec4e" stroke-width="5.9" fill="none"/><circle cx="715.5" cy="348.3" r="7.35" stroke="#fbec4e" stroke-width="5.9" fill="none"/><circle cx="917.0" cy="195.4" r="7.35" stroke="#fbec4e" stroke-width="5.9" fill="none"/><circle cx="1118.5" cy="178.2" r="7.35" stroke="#fbec4e" stroke-width="5.9" fill="none"/><circle cx="1320.0" cy="280.8" r="7.35" stroke="#fbec4e" stroke-width="5.9" fill="none"/><circle cx="1521.5" cy="448.2" r="7.35" stroke="#fbec4e" stroke-width="5.9" fill="none"/><circle cx="1723.0" cy="702.4" r="7.35" stroke="#fbec4e" stroke-width="5.9" fill="none"/><circle cx="1924.5" cy="999.8" r="7.35" stroke="#fbec4e" stroke-width="5.9" fill="none"/><circle cx="2025.2" cy="1141.6" r="7.35" stroke="#fbec4e" stroke-width="5.9" fill="none"/><circle cx="2085.7" cy="1238.0" r="7.35" stroke="#fbec4e" stroke-width="5.9" fill="none"/><circle cx="2126.0" cy="1291.0" r="7.35" stroke="#fbec4e" stroke-width="5.9" fill="none"/></g>
</g>
<circle cx="457.2" cy="122.3" r="7" fill="#666"/><circle cx="1233.8" cy="122.3" r="7" fill="#666"/>
<path d="M613.8,134 L617.5,134 L628.6,103.2 L624.9,103.2 Z" fill="#666"/>
<path d="M636.8,134 L640.5,134 L651.3,103.2 L647.6,103.2 Z" fill="#666"/>
<path d="M855.4,134 L859.1,134 L870.0,103.2 L866.3,103.2 Z" fill="#666"/>
<path d="M0,0 H12 A12,12 0 0 0 0,12 Z" fill="#000"/>
<path d="M2202,0 H2190 A12,12 0 0 1 2202,12 Z" fill="#000"/>
<path d="M0,1382 H9 V1383 H12 V1384 H0 Z" fill="#000"/>
<path d="M2202,1382 H2193 V1383 H2190 V1384 H2202 Z" fill="#000"/>
</svg>
<div class="btn"></div>
<span class="tw" style="left:86.78px;transform:scaleX(0.9187)">TVI</span>
<span class="tw" style="left:162.59px;transform:scaleX(0.9357)">based</span>
<span class="tw" style="left:286.84px;transform:scaleX(0.9822)">on</span>
<span class="tw" style="left:347.16px;transform:scaleX(0.8357)">XYZ</span>
<span class="tw" style="left:492.37px;transform:scaleX(1.0755)">https:</span>
<span class="tw" style="left:654.47px;transform:scaleX(1.0165)">cielab.xyz</span>
<span class="tw" style="left:874.20px;transform:scaleX(1.0025)">spectralcalc.php</span>
<span class="tw" style="left:1270.59px;transform:scaleX(0.9546)">Green</span>
<span class="tw" style="left:1399.39px;transform:scaleX(0.9770)">Ref:</span>
<span class="tw" style="left:1491.08px;transform:scaleX(0.8296)">ISO</span>
<span class="tw" style="left:1570.10px;transform:scaleX(0.9321)">12647-2:2004</span>
<span class="tw" style="left:1838.78px;transform:scaleX(0.9109)">Curv</span>
<span class="tw" style="left:1936.60px;transform:scaleX(0.8759)">A</span>
<span class="tw" style="left:1972.64px;transform:scaleX(0.9533)">(14</span>
<span class="tw" style="left:2048.16px;transform:scaleX(0.8364)">±</span>
<span class="tw" style="left:2082.80px;transform:scaleX(0.9972)">4)</span>
<span class="bw" style="left:658.35px;transform:scaleX(1.0749)">Отрисовать</span>
<span class="bw" style="left:908.37px;transform:scaleX(1.1435)">график</span>
<span class="bw" style="left:1074.95px;transform:scaleX(1.0158)">в</span>
<span class="bw" style="left:1112.51px;transform:scaleX(1.0645)">PNG</span>
<span class="bw" style="left:1211.40px;transform:scaleX(1.0612)">для</span>
<span class="bw" style="left:1296.15px;transform:scaleX(1.1491)">публикации</span>
<div class="xl" style="left:60.2px">0</div>
<div class="xl" style="left:263.0px">10</div>
<div class="xl" style="left:463.2px">20</div>
<div class="xl" style="left:665.5px">30</div>
<div class="xl" style="left:866.8px">40</div>
<div class="xl" style="left:1069.4px">50</div>
<div class="xl" style="left:1269.8px">60</div>
<div class="xl" style="left:1471.3px">70</div>
<div class="xl" style="left:1672.8px">80</div>
<div class="xl" style="left:1874.0px">90</div>
<div class="xl" style="left:2075.0px">100</div>
<div class="yl" style="top:149.3px">36</div>
<div class="yl" style="top:336.0px">30</div>
<div class="yl" style="top:523.6px">24</div>
<div class="yl" style="top:712.3px">18</div>
<div class="yl" style="top:900.0px">12</div>
<div class="yl" style="top:1086.6px">6</div>
<div class="yl" style="top:1275.3px">0</div>
</body></html>
